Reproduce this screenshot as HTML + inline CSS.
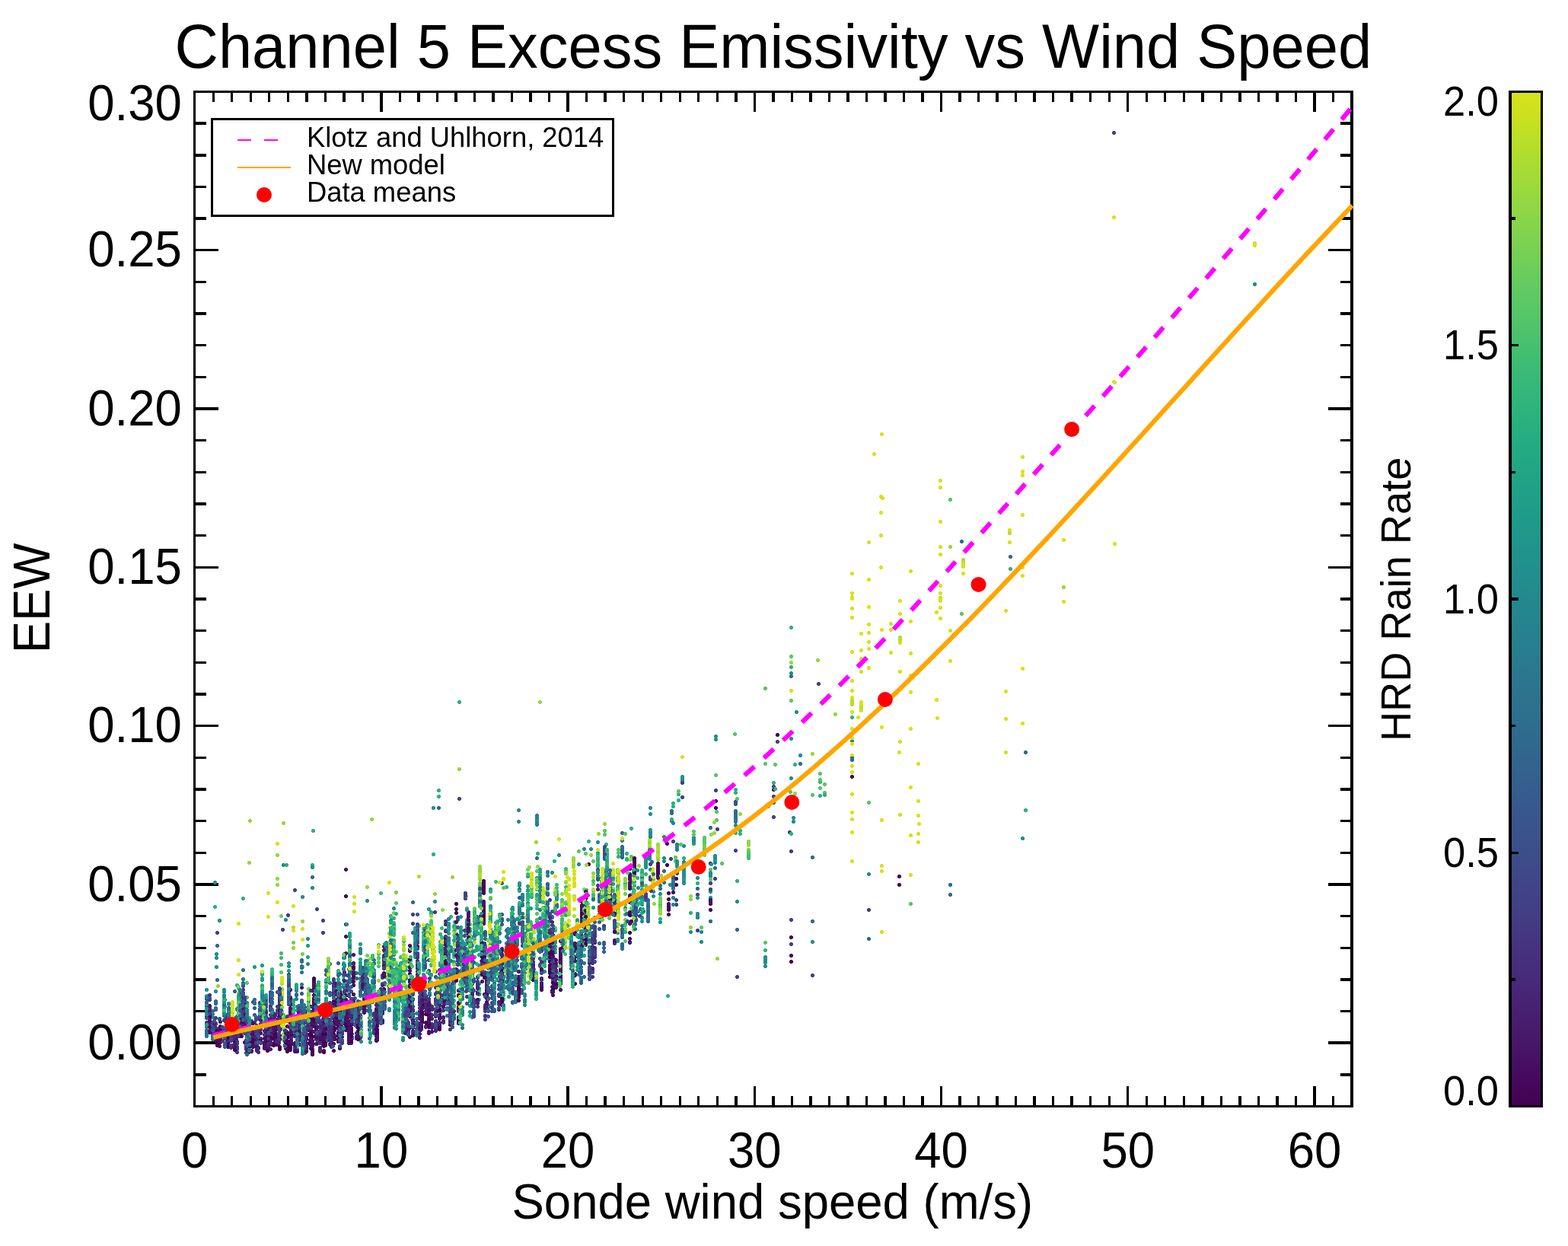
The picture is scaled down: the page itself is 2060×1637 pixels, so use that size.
<!DOCTYPE html>
<html lang="en">
<head>
<meta charset="utf-8">
<title>Channel 5 Excess Emissivity vs Wind Speed</title>
<style>
html,body{margin:0;padding:0;background:#fff;}
body{width:2060px;height:1637px;overflow:hidden;font-family:'Liberation Sans', sans-serif;}
svg{display:block;}
</style>
</head>
<body>
<svg width="2060" height="1637" viewBox="0 0 2060 1637" font-family="'Liberation Sans', sans-serif" fill="#000" role="img" aria-label="Channel 5 Excess Emissivity vs Wind Speed">
<rect width="2060" height="1637" fill="#fff"/>
<g stroke="#000" stroke-width="3.4" fill="none" stroke-linecap="butt" shape-rendering="crispEdges">
<rect x="255.7" y="120.5" width="1520.3" height="1333.0"/>
<path d="M255.70,1453.5v-26.5M255.70,120.5v26.5M280.22,1453.5v-13.5M280.22,120.5v13.5M304.74,1453.5v-13.5M304.74,120.5v13.5M329.26,1453.5v-13.5M329.26,120.5v13.5M353.78,1453.5v-13.5M353.78,120.5v13.5M378.30,1453.5v-13.5M378.30,120.5v13.5M402.83,1453.5v-13.5M402.83,120.5v13.5M427.35,1453.5v-13.5M427.35,120.5v13.5M451.87,1453.5v-13.5M451.87,120.5v13.5M476.39,1453.5v-13.5M476.39,120.5v13.5M500.91,1453.5v-26.5M500.91,120.5v26.5M525.43,1453.5v-13.5M525.43,120.5v13.5M549.95,1453.5v-13.5M549.95,120.5v13.5M574.47,1453.5v-13.5M574.47,120.5v13.5M598.99,1453.5v-13.5M598.99,120.5v13.5M623.51,1453.5v-13.5M623.51,120.5v13.5M648.04,1453.5v-13.5M648.04,120.5v13.5M672.56,1453.5v-13.5M672.56,120.5v13.5M697.08,1453.5v-13.5M697.08,120.5v13.5M721.60,1453.5v-13.5M721.60,120.5v13.5M746.12,1453.5v-26.5M746.12,120.5v26.5M770.64,1453.5v-13.5M770.64,120.5v13.5M795.16,1453.5v-13.5M795.16,120.5v13.5M819.68,1453.5v-13.5M819.68,120.5v13.5M844.20,1453.5v-13.5M844.20,120.5v13.5M868.72,1453.5v-13.5M868.72,120.5v13.5M893.25,1453.5v-13.5M893.25,120.5v13.5M917.77,1453.5v-13.5M917.77,120.5v13.5M942.29,1453.5v-13.5M942.29,120.5v13.5M966.81,1453.5v-13.5M966.81,120.5v13.5M991.33,1453.5v-26.5M991.33,120.5v26.5M1015.85,1453.5v-13.5M1015.85,120.5v13.5M1040.37,1453.5v-13.5M1040.37,120.5v13.5M1064.89,1453.5v-13.5M1064.89,120.5v13.5M1089.41,1453.5v-13.5M1089.41,120.5v13.5M1113.93,1453.5v-13.5M1113.93,120.5v13.5M1138.45,1453.5v-13.5M1138.45,120.5v13.5M1162.98,1453.5v-13.5M1162.98,120.5v13.5M1187.50,1453.5v-13.5M1187.50,120.5v13.5M1212.02,1453.5v-13.5M1212.02,120.5v13.5M1236.54,1453.5v-26.5M1236.54,120.5v26.5M1261.06,1453.5v-13.5M1261.06,120.5v13.5M1285.58,1453.5v-13.5M1285.58,120.5v13.5M1310.10,1453.5v-13.5M1310.10,120.5v13.5M1334.62,1453.5v-13.5M1334.62,120.5v13.5M1359.14,1453.5v-13.5M1359.14,120.5v13.5M1383.66,1453.5v-13.5M1383.66,120.5v13.5M1408.19,1453.5v-13.5M1408.19,120.5v13.5M1432.71,1453.5v-13.5M1432.71,120.5v13.5M1457.23,1453.5v-13.5M1457.23,120.5v13.5M1481.75,1453.5v-26.5M1481.75,120.5v26.5M1506.27,1453.5v-13.5M1506.27,120.5v13.5M1530.79,1453.5v-13.5M1530.79,120.5v13.5M1555.31,1453.5v-13.5M1555.31,120.5v13.5M1579.83,1453.5v-13.5M1579.83,120.5v13.5M1604.35,1453.5v-13.5M1604.35,120.5v13.5M1628.87,1453.5v-13.5M1628.87,120.5v13.5M1653.40,1453.5v-13.5M1653.40,120.5v13.5M1677.92,1453.5v-13.5M1677.92,120.5v13.5M1702.44,1453.5v-13.5M1702.44,120.5v13.5M1726.96,1453.5v-26.5M1726.96,120.5v26.5M1751.48,1453.5v-13.5M1751.48,120.5v13.5M1776.00,1453.5v-13.5M1776.00,120.5v13.5M255.7,1453.50h15M1776.0,1453.50h-15M255.7,1411.84h15M1776.0,1411.84h-15M255.7,1370.19h31M1776.0,1370.19h-31M255.7,1328.53h15M1776.0,1328.53h-15M255.7,1286.88h15M1776.0,1286.88h-15M255.7,1245.22h15M1776.0,1245.22h-15M255.7,1203.56h15M1776.0,1203.56h-15M255.7,1161.91h31M1776.0,1161.91h-31M255.7,1120.25h15M1776.0,1120.25h-15M255.7,1078.59h15M1776.0,1078.59h-15M255.7,1036.94h15M1776.0,1036.94h-15M255.7,995.28h15M1776.0,995.28h-15M255.7,953.62h31M1776.0,953.62h-31M255.7,911.97h15M1776.0,911.97h-15M255.7,870.31h15M1776.0,870.31h-15M255.7,828.66h15M1776.0,828.66h-15M255.7,787.00h15M1776.0,787.00h-15M255.7,745.34h31M1776.0,745.34h-31M255.7,703.69h15M1776.0,703.69h-15M255.7,662.03h15M1776.0,662.03h-15M255.7,620.38h15M1776.0,620.38h-15M255.7,578.72h15M1776.0,578.72h-15M255.7,537.06h31M1776.0,537.06h-31M255.7,495.41h15M1776.0,495.41h-15M255.7,453.75h15M1776.0,453.75h-15M255.7,412.09h15M1776.0,412.09h-15M255.7,370.44h15M1776.0,370.44h-15M255.7,328.78h31M1776.0,328.78h-31M255.7,287.12h15M1776.0,287.12h-15M255.7,245.47h15M1776.0,245.47h-15M255.7,203.81h15M1776.0,203.81h-15M255.7,162.16h15M1776.0,162.16h-15M255.7,120.50h31M1776.0,120.50h-31"/>
</g>
<g transform="translate(.5,.5)" fill="none" stroke-width="4.9" stroke-linecap="round" shape-rendering="crispEdges">
<path stroke="#21a685" d="M626 1243h0M604 1340h0M694 1242h0M653 1287h0M344 1285h0M497 1309h0M715 1206h0M431 1272h0M556 1242h0M294 1323h0M693 1180h0M752 1255h0M750 1231h0M670 1247h0M805 1169h0M693 1151h0M459 1239h0M313 1342h0M717 1240h0M530 1330h0M486 1339h0M704 1305h0M539 1268h0M647 1243h0M705 1153h0M752 1255h0M717 1227h0M459 1241h0M670 1290h0M677 1268h0M385 1338h0M663 1263h0M693 1190h0M644 1199h0M641 1278h0M632 1201h0M644 1211h0M729 1251h0M790 1172h0M346 1326h0M513 1238h0M327 1345h0M584 1290h0M518 1302h0M451 1318h0M517 1235h0M785 1127h0M397 1364h0M605 1263h0M688 1275h0M797 1121h0M673 1232h0M758 1210h0M313 1312h0M520 1323h0M520 1304h0M623 1232h0M580 1256h0M607 1284h0M523 1312h0M418 1307h0M530 1314h0M604 1336h0M431 1280h0M566 1198h0M344 1279h0M589 1287h0M785 1136h0M529 1309h0M545 1229h0M324 1357h0M704 1291h0M688 1275h0M486 1361h0M489 1276h0M688 1265h0M715 1269h0M511 1299h0M704 1299h0M647 1237h0M344 1317h0M428 1321h0M372 1345h0M357 1289h0M344 1285h0M709 1142h0M682 1193h0M697 1280h0M673 1236h0M459 1249h0M619 1286h0M580 1264h0M717 1215h0M521 1322h0M752 1255h0M607 1309h0M517 1223h0M524 1277h0M444 1303h0M607 1295h0M691 1250h0M673 1232h0M738 1208h0M397 1367h0M843 1146h0M688 1277h0M529 1337h0M561 1215h0M315 1310h0M617 1283h0M758 1208h0M521 1313h0M647 1264h0M517 1221h0M294 1316h0M385 1320h0M451 1282h0M682 1163h0M550 1265h0"/>
<path stroke="#1e9b8a" d="M556 1274h0M578 1280h0M715 1213h0M752 1239h0M832 1179h0M620 1248h0M644 1180h0M607 1287h0M530 1284h0M451 1281h0M750 1235h0M515 1279h0M673 1220h0M556 1260h0M405 1338h0M832 1216h0M385 1339h0M507 1248h0M644 1234h0M731 1174h0M524 1301h0M580 1258h0M647 1230h0M763 1227h0M533 1285h0M324 1332h0M473 1293h0M584 1285h0M670 1269h0M517 1243h0M497 1321h0M720 1255h0M489 1278h0M613 1213h0M369 1316h0M793 1154h0M717 1213h0M478 1288h0M545 1229h0M651 1235h0M533 1338h0M584 1304h0M649 1266h0M623 1208h0M324 1338h0M517 1246h0M667 1257h0M853 1128h0M688 1270h0M750 1250h0M346 1335h0M521 1320h0M517 1284h0M670 1295h0M486 1316h0M478 1312h0M550 1267h0M334 1270h0M486 1331h0M584 1305h0M431 1283h0M346 1328h0M346 1317h0M644 1239h0M414 1311h0M414 1330h0M529 1314h0M667 1237h0M715 1208h0M623 1224h0M647 1253h0M300 1347h0M898 1157h0M612 1240h0M578 1298h0M459 1259h0M647 1238h0M653 1213h0M597 1236h0M596 1297h0M584 1292h0M811 1216h0M300 1339h0M719 1219h0M405 1341h0M752 1273h0M341 1325h0M397 1384h0M529 1366h0M670 1276h0M541 1316h0M513 1249h0M632 1238h0M397 1364h0M524 1280h0M597 1225h0M717 1238h0M327 1382h0M752 1285h0M729 1199h0M524 1285h0M647 1241h0M596 1308h0M517 1281h0M390 1370h0M529 1366h0M688 1264h0M779 1192h0M478 1293h0M545 1256h0M889 1134h0M444 1278h0M843 1180h0M667 1267h0M313 1342h0M523 1326h0M750 1232h0M688 1260h0M717 1199h0M689 1236h0M521 1295h0M478 1295h0M647 1242h0M796 1142h0M770 1203h0M524 1301h0M647 1238h0M418 1316h0M478 1297h0M379 1282h0M632 1201h0M617 1232h0M372 1352h0"/>
<path stroke="#414287" d="M367 1313h0M319 1324h0M587 1312h0M719 1217h0M1039 1208h0M726 1231h0M307 1357h0M622 1318h0M367 1327h0M1016 1033h0M500 1344h0M310 1369h0M577 1298h0M574 1322h0M835 1199h0M379 1292h0M317 1320h0M462 1343h0M646 1300h0M542 1306h0M564 1293h0M330 1341h0M778 1250h0M438 1293h0M548 1220h0M295 1371h0M400 1376h0M462 1362h0M446 1346h0M461 1328h0M781 1206h0M633 1279h0M339 1355h0M279 1350h0M1016 1054h0M939 1154h0M400 1358h0M686 1225h0M396 1322h0M807 1215h0M644 1283h0M324 1385h0M1039 1240h0M321 1350h0M502 1294h0M418 1309h0M572 1354h0M476 1274h0M446 1351h0M311 1371h0M484 1309h0M323 1376h0M587 1325h0M627 1283h0M1067 1281h0M592 1332h0M366 1335h0M571 1198h0M452 1337h0M801 1167h0M382 1364h0M323 1367h0M367 1312h0M620 1307h0M476 1276h0M722 1209h0M551 1312h0M637 1320h0M321 1314h0M315 1334h0M324 1366h0M622 1328h0M572 1297h0M558 1319h0M613 1298h0M438 1303h0M536 1345h0M420 1377h0M532 1344h0M341 1334h0M446 1354h0M400 1363h0M396 1330h0M796 1163h0M548 1257h0M275 1325h0M656 1279h0M551 1316h0M505 1312h0M367 1342h0M295 1373h0M438 1304h0M854 1152h0M739 1237h0M298 1336h0M536 1343h0M294 1333h0M311 1362h0M916 1175h0M603 1049h0M396 1319h0M294 1331h0M399 1334h0M620 1312h0M271 1312h0M330 1344h0M359 1335h0M504 1261h0M774 1276h0M452 1322h0M414 1345h0M559 1315h0M667 1295h0M315 1322h0M835 1188h0M341 1339h0M686 1242h0M1016 1073h0M285 1359h0M315 1338h0M462 1335h0M355 1340h0M1141 1195h0"/>
<path stroke="#2a778e" d="M605 1218h0M397 1366h0M709 1269h0M517 1217h0M513 1259h0M752 1280h0M435 1343h0M801 1167h0M763 1254h0M651 1234h0M750 1248h0M578 1307h0M760 1244h0M752 1249h0M651 1272h0M399 1325h0M319 1333h0M752 1287h0M630 1186h0M785 1150h0M613 1222h0M589 1270h0M817 1223h0M315 1305h0M476 1297h0M485 1317h0M279 1358h0M613 1274h0M435 1328h0M574 1312h0M480 1282h0M641 1323h0M672 1237h0M446 1346h0M637 1255h0M466 1331h0M429 1323h0M767 1265h0M578 1306h0M592 1337h0M485 1326h0M433 1291h0M763 1223h0M574 1309h0M500 1324h0M613 1268h0M787 1194h0M750 1240h0M966 1079h0M884 1159h0M480 1281h0M693 1237h0M349 1330h0M630 1172h0M564 1319h0M715 1211h0M513 1239h0M294 1334h0M594 1295h0M750 1233h0M294 1322h0M524 1304h0M389 1301h0M843 1172h0M446 1328h0M369 1327h0M760 1245h0M526 1312h0M428 1327h0M547 1338h0M558 1233h0M686 1230h0M452 1253h0M529 1336h0M500 1318h0M675 1208h0M295 1339h0M271 1359h0M620 1268h0M484 1311h0M630 1189h0M390 1342h0M693 1234h0M505 1322h0M385 1348h0M760 1254h0M414 1329h0M587 1298h0M605 1221h0M637 1227h0M344 1310h0M620 1257h0M589 1273h0M279 1336h0M785 1153h0M327 1364h0M966 1070h0M884 1153h0M548 1223h0M752 1296h0M369 1313h0M613 1254h0M396 1317h0M524 1303h0M637 1243h0M752 1296h0M587 1312h0M518 1342h0M300 1337h0M651 1237h0M966 1065h0M774 1219h0M507 1260h0M533 1317h0M801 1161h0M486 1306h0M517 1292h0M524 1295h0M796 1171h0M658 1302h0M760 1249h0"/>
<path stroke="#2db27d" d="M521 1324h0M418 1299h0M812 1125h0M596 1251h0M346 1322h0M523 1331h0M486 1335h0M517 1236h0M649 1264h0M728 1131h0M811 1165h0M715 1263h0M584 1315h0M688 1271h0M805 1149h0M376 1136h0M670 1278h0M344 1326h0M561 1228h0M972 1091h0M584 1284h0M486 1329h0M750 1228h0M670 1280h0M612 1226h0M607 1284h0M752 1276h0M779 1170h0M520 1308h0M550 1267h0M705 1240h0M1005 1248h0M459 1228h0M704 1303h0M785 1130h0M629 1216h0M604 1317h0M617 1273h0M486 1276h0M521 1280h0M704 1311h0M693 1204h0M327 1350h0M644 1207h0M797 1136h0M821 1201h0M739 1235h0M566 1267h0M515 1273h0M576 1038h0M605 1227h0M459 1236h0M566 1200h0M833 1181h0M390 1373h0M891 1043h0M632 1201h0M833 1163h0M705 1241h0M661 1326h0M623 1220h0M584 1281h0M539 1282h0M693 1209h0M623 1216h0M523 1305h0M491 1286h0M672 1204h0M647 1254h0M891 1051h0M530 1263h0M843 1181h0M486 1369h0M596 1292h0M1077 1027h0M704 1284h0M282 1191h0M561 1234h0M738 1229h0M431 1280h0M701 1273h0M397 1354h0M346 1329h0M459 1247h0M752 1269h0M529 1309h0M511 1275h0M480 1263h0M743 1202h0M344 1280h0M811 1153h0M524 1284h0M451 1312h0M1119 942h0M877 1308h0M626 1248h0M517 1224h0M521 1309h0M431 1274h0M1039 876h0M580 1274h0M791 1161h0M520 1351h0M372 1345h0M372 1341h0M705 1181h0M584 1299h0M647 1250h0M785 1138h0M693 1176h0M832 1177h0M743 1170h0M796 1109h0M693 1176h0M750 1232h0M649 1289h0M597 1229h0M517 1228h0M575 1307h0M597 1217h0M529 1334h0M698 1176h0M630 1185h0M619 1292h0M428 1305h0M670 1283h0M729 1222h0M689 1250h0M797 1124h0M760 1248h0M478 1312h0M752 1265h0M691 1258h0M966 1037h0"/>
<path stroke="#218f8d" d="M843 1205h0M691 1254h0M735 1295h0M507 1248h0M594 1274h0M499 1325h0M518 1321h0M717 1225h0M315 1300h0M515 1279h0M459 1279h0M294 1326h0M770 1218h0M300 1324h0M921 1237h0M473 1252h0M644 1209h0M294 1318h0M533 1303h0M507 1249h0M410 1166h0M715 1199h0M428 1320h0M1039 1022h0M459 1253h0M843 1160h0M911 1100h0M672 1208h0M482 1274h0M612 1288h0M295 1313h0M478 1282h0M517 1193h0M444 1323h0M513 1243h0M357 1298h0M939 1131h0M324 1337h0M613 1266h0M397 1369h0M390 1327h0M617 1329h0M607 1280h0M817 1104h0M550 1276h0M459 1257h0M623 1210h0M473 1276h0M489 1292h0M933 1171h0M389 1306h0M466 1320h0M858 1177h0M704 1288h0M521 1306h0M898 1138h0M589 1251h0M473 1308h0M578 1289h0M517 1281h0M620 1250h0M428 1317h0M670 1279h0M653 1241h0M550 1289h0M397 1384h0M709 1235h0M760 1135h0M1051 992h0M613 1284h0M558 1235h0M444 1293h0M836 1182h0M489 1259h0M511 1325h0M459 1289h0M499 1325h0M1005 1264h0M872 1131h0M858 1171h0M667 1250h0M524 1304h0M1039 970h0M763 1223h0M524 1310h0M1046 935h0M682 1163h0M691 1262h0M385 1330h0M294 1323h0M672 1215h0M507 1238h0M750 1227h0M682 1170h0M843 1152h0M473 1248h0M507 1249h0M511 1283h0M605 1246h0M578 1284h0M679 1240h0M898 1141h0M524 1308h0M629 1305h0M750 1228h0M921 1224h0M719 1164h0M346 1313h0M750 1237h0M390 1374h0M750 1243h0M796 1156h0M629 1268h0M898 1144h0M397 1382h0M630 1170h0M390 1370h0M898 1148h0M758 1242h0M545 1256h0M545 1226h0M968 1184h0M459 1244h0M647 1254h0M404 1266h0M524 1291h0M689 1257h0M641 1286h0M418 1298h0M451 1333h0M653 1249h0M677 1310h0M776 1115h0M474 1348h0M793 1194h0M405 1341h0M613 1208h0M787 1175h0M541 1339h0M811 1225h0M513 1218h0M478 1296h0M750 1238h0M670 1296h0M507 1253h0M271 1361h0M691 1265h0M767 1115h0M587 1262h0M898 1111h0M284 1270h0M647 1239h0M556 1266h0M647 1235h0M717 1228h0M725 1146h0M853 1119h0M787 1192h0M589 1236h0M556 1292h0M629 1306h0M474 1368h0M916 1153h0M715 1243h0M451 1325h0M584 1281h0M294 1328h0M670 1268h0M418 1307h0"/>
<path stroke="#95d840" d="M772 1237h0M705 1157h0M630 1138h0M575 1289h0M533 1264h0M653 1230h0M630 1146h0M405 1327h0M619 1276h0M630 1140h0M530 1283h0M907 1177h0M791 1190h0M512 1267h0M561 1233h0M694 1277h0M698 1157h0M767 1201h0M486 1259h0M581 1195h0M305 1330h0M405 1334h0M1044 1042h0M346 1331h0M767 1231h0M853 1111h0M568 1264h0M772 1219h0M811 1143h0M772 1193h0M328 1078h0M619 1272h0M791 1159h0M619 1277h0M405 1314h0M431 1271h0M805 1167h0M364 1154h0M385 1245h0M561 1233h0M694 1265h0M619 1277h0M520 1264h0M839 1137h0M738 1193h0M571 1174h0M694 1231h0M497 1260h0M767 1168h0M867 1200h0M779 1182h0M509 1264h0M566 1233h0M597 1232h0M706 1138h0M859 1187h0M800 1177h0M704 1291h0M617 1243h0M372 1351h0M509 1285h0M561 1238h0M575 1293h0M794 1082h0M389 1296h0M800 1180h0M832 1221h0M517 1279h0M632 1234h0M772 1224h0M491 1266h0M370 1300h0M697 1286h0M632 1200h0M530 1289h0M575 1315h0M509 1266h0M305 1324h0M672 1222h0"/>
<path stroke="#75d054" d="M561 1224h0M805 1143h0M738 1185h0M843 1170h0M772 1227h0M515 1262h0M521 1277h0M566 1211h0M742 1230h0M431 1268h0M821 1208h0M767 1197h0M745 1196h0M653 1250h0M385 1238h0M313 1305h0M779 1161h0M800 1170h0M561 1228h0M867 1187h0M743 1185h0M743 1172h0M713 1217h0M772 1208h0M515 1262h0M580 1251h0M607 1280h0M344 1294h0M925 1123h0M738 1236h0M566 1211h0M509 1269h0M821 1220h0M566 1234h0M533 1295h0M805 1183h0M623 1212h0M767 1219h0M604 1338h0M617 1258h0M486 1278h0M623 1227h0M791 1172h0M832 1173h0M832 1170h0M811 1214h0M607 1284h0M821 1160h0M533 1274h0M767 1180h0M515 1264h0M821 1158h0M607 1289h0M713 1192h0M405 1334h0M604 1342h0M566 1209h0M530 1314h0M983 1116h0M832 1147h0M474 1346h0M619 1269h0M619 1269h0M925 1110h0M800 1193h0M561 1235h0M693 1142h0"/>
<path stroke="#40bd72" d="M653 1265h0M742 1230h0M613 1193h0M767 1235h0M632 1212h0M758 1219h0M811 1182h0M738 1207h0M670 1295h0M515 1283h0M697 1271h0M491 1295h0M630 1172h0M521 1329h0M617 1240h0M604 1344h0M738 1200h0M515 1254h0M770 1169h0M428 1317h0M735 1283h0M431 1269h0M414 1301h0M397 1344h0M385 1327h0M785 1125h0M812 1158h0M770 1193h0M688 1289h0M604 1344h0M832 1146h0M513 1226h0M752 1269h0M619 1262h0M346 1339h0M811 1196h0M832 1143h0M428 1311h0M584 1283h0M843 1145h0M607 1302h0M832 1172h0M735 1278h0M369 1267h0M520 1303h0M651 1158h0M561 1238h0M500 1173h0M752 1267h0M580 1251h0M689 1267h0M661 1306h0M517 1242h0M697 1217h0M743 1142h0M663 1256h0M720 1229h0M497 1269h0M596 1285h0M604 1344h0M596 1263h0M805 1184h0M566 1268h0M673 1227h0M772 1207h0M486 1369h0M619 1285h0M821 1156h0M758 1246h0M580 1255h0M697 1220h0M693 1189h0M346 1345h0M556 1255h0M653 1228h0M805 1154h0M566 1281h0M405 1332h0M294 1316h0M772 1237h0M619 1247h0M800 1182h0M697 1228h0M529 1346h0M767 1239h0M550 1278h0M617 1244h0M520 1277h0M717 1230h0M346 1318h0M626 1220h0M735 1263h0M596 1247h0M584 1279h0M526 1257h0M738 1218h0M313 1333h0M604 1323h0"/>
<path stroke="#d8e219" d="M653 1247h0M754 1161h0M364 1108h0M568 1220h0M694 1247h0M747 1245h0M632 1193h0M694 1256h0M772 1207h0M857 1167h0M580 1237h0M580 1248h0M370 1286h0M791 1191h0M643 1237h0M1141 843h0M1157 703h0M694 1235h0M742 1219h0M747 1182h0M575 1301h0M643 1216h0M694 1290h0M800 1189h0M431 1260h0M694 1255h0M597 1239h0M604 1316h0M509 1261h0M512 1230h0M575 1296h0M812 1194h0M575 1288h0M1207 1082h0M805 1157h0M857 1142h0M604 1303h0M370 1303h0M1235 718h0M1464 502h0M370 1311h0M1119 918h0M1182 844h0M1170 827h0M694 1258h0M857 1157h0M372 1365h0M1170 857h0M509 1263h0M1321 988h0M800 1159h0M812 1146h0M1206 1052h0M857 1141h0M1321 802h0M661 1154h0M568 1225h0M698 1151h0M694 1231h0M747 1189h0M1170 819h0M568 1252h0M1235 685h0M1397 709h0M698 1148h0M747 1163h0M431 1268h0M857 1155h0M812 1222h0M754 1162h0M800 1170h0M305 1319h0M800 1168h0M694 1236h0M580 1245h0M800 1184h0M1131 925h0M512 1274h0M530 1257h0M772 1217h0M370 1304h0M772 1215h0M1397 790h0M1119 1093h0M1039 907h0M742 1228h0M530 1278h0M604 1322h0M857 1163h0M459 1269h0M1119 1067h0M857 1144h0M857 1151h0M530 1231h0M575 1302h0M1119 811h0M580 1246h0M1182 882h0M1119 916h0M1182 1070h0M743 1158h0M512 1244h0M568 1230h0M1131 931h0M767 1194h0M397 1234h0M1119 1076h0M1127 942h0M570 1269h0M509 1265h0M570 1265h0M713 1166h0M857 1156h0M791 1173h0M313 1280h0M561 1222h0M805 1134h0M313 1213h0"/>
<path stroke="#58c765" d="M584 1305h0M596 1273h0M821 1236h0M772 1205h0M717 1172h0M694 1238h0M619 1263h0M431 1275h0M772 1231h0M617 1214h0M530 1307h0M894 1109h0M580 1253h0M414 1300h0M617 1291h0M1263 806h0M887 1131h0M701 1279h0M720 1230h0M1196 1187h0M623 1202h0M1083 1030h0M758 1208h0M704 1288h0M653 1242h0M520 1338h0M663 1267h0M517 1279h0M491 1283h0M566 1296h0M604 1344h0M431 1275h0M431 1266h0M584 1293h0M405 1321h0M596 1223h0M738 1218h0M689 1236h0M613 1209h0M647 1224h0M812 1162h0M372 1366h0M431 1277h0M405 1318h0M313 1321h0M619 1271h0M647 1238h0M701 1256h0M405 1342h0M925 1116h0M697 1254h0M911 1096h0M697 1259h0M821 1213h0M705 1179h0M717 1213h0M858 1155h0M584 1297h0M517 1224h0M833 1150h0M717 1173h0M705 1185h0M512 1282h0M643 1244h0M597 1216h0M941 1066h0M821 1160h0M653 1246h0M523 1322h0M697 1267h0M948 1134h0M933 1142h0M533 1297h0M800 1188h0M701 1238h0M515 1282h0M604 1344h0M829 1175h0M940 1018h0M346 1338h0M830 1166h0M653 1215h0M523 1324h0M512 1248h0M459 1269h0M575 1301h0M619 1248h0M720 1246h0M720 1227h0M530 1235h0M729 1219h0M530 1310h0M405 1310h0M925 1102h0M520 1316h0M653 1251h0M1077 1035h0M346 1320h0M520 1310h0M459 1235h0M1141 1054h0M489 1271h0M580 1252h0M925 1114h0M346 1327h0M561 1232h0M451 1311h0M466 1332h0M509 1275h0M530 1260h0M694 1235h0M489 1289h0M561 1240h0M661 1313h0M717 1187h0M698 1152h0M451 1314h0M693 1191h0M1005 904h0M760 1118h0M663 1264h0M431 1276h0M580 1243h0M357 1298h0M539 1260h0M1038 1040h0M832 1213h0"/>
<path stroke="#471365" d="M447 1306h0M736 1260h0M458 1368h0M298 1358h0M444 1350h0M464 1266h0M288 1365h0M364 1365h0M864 1140h0M326 1382h0M412 1314h0M532 1339h0M476 1288h0M602 1324h0M454 1347h0M275 1333h0M364 1358h0M332 1356h0M281 1351h0M326 1377h0M454 1353h0M538 1323h0M414 1342h0M563 1355h0M725 1263h0M367 1309h0M381 1369h0M736 1265h0M410 1367h0M420 1354h0M538 1308h0M827 1213h0M495 1338h0M454 1330h0M736 1292h0M425 1354h0M337 1374h0M441 1338h0M736 1283h0M599 1274h0M300 1342h0M470 1345h0M659 1289h0M730 1286h0M599 1285h0M827 1185h0M577 1325h0M700 1265h0M615 1225h0M478 1315h0M577 1335h0M577 1349h0M364 1372h0M559 1321h0M458 1346h0M542 1339h0M381 1357h0M478 1318h0M470 1335h0M351 1357h0M412 1293h0M332 1373h0M470 1336h0M298 1348h0M736 1272h0M289 1358h0M711 1291h0M281 1366h0M478 1319h0M404 1332h0M458 1333h0M577 1346h0M412 1295h0M410 1373h0M470 1318h0M317 1323h0M454 1341h0M289 1357h0M478 1317h0M447 1311h0M476 1278h0M375 1360h0M615 1201h0M470 1355h0M476 1296h0M764 1201h0M478 1319h0M599 1248h0M381 1313h0M447 1324h0M538 1316h0M554 1339h0M538 1320h0M281 1350h0M476 1276h0M390 1381h0M382 1352h0M726 1228h0M315 1359h0M412 1286h0M755 1292h0M585 1241h0M381 1332h0M736 1287h0M424 1357h0M591 1306h0M461 1352h0M538 1296h0M412 1313h0M827 1238h0M439 1337h0M410 1378h0M381 1317h0M538 1333h0M351 1371h0M538 1290h0M412 1291h0M458 1367h0M454 1252h0M454 1336h0M722 1228h0M478 1320h0M332 1360h0M582 1336h0M494 1367h0M554 1341h0M392 1331h0M655 1308h0M364 1352h0M538 1305h0M454 1339h0M424 1370h0M444 1338h0M347 1364h0M563 1316h0M478 1313h0M458 1357h0M538 1288h0M377 1341h0M585 1280h0M420 1380h0M351 1349h0M736 1283h0M412 1324h0M764 1210h0M478 1314h0M577 1348h0M427 1373h0M736 1254h0M402 1370h0M755 1279h0M454 1214h0M444 1361h0M415 1342h0M470 1326h0M427 1356h0M681 1276h0M435 1375h0M319 1335h0M478 1316h0M336 1363h0M615 1227h0M659 1278h0M281 1360h0M470 1358h0M504 1266h0M342 1357h0M609 1289h0M730 1285h0M349 1348h0M330 1374h0M458 1345h0M542 1328h0M722 1247h0M392 1328h0M412 1297h0M627 1322h0M801 1183h0M725 1275h0M722 1273h0M381 1324h0M377 1348h0M615 1209h0M458 1369h0M364 1348h0M407 1351h0M577 1328h0M755 1257h0M615 1237h0M408 1358h0M602 1307h0M464 1272h0M781 1238h0"/>
<path stroke="#2f6b8e" d="M770 1195h0M300 1334h0M717 1239h0M673 1266h0M369 1335h0M626 1205h0M644 1264h0M526 1302h0M796 1155h0M444 1321h0M1263 711h0M613 1266h0M939 1140h0M851 1206h0M300 1344h0M658 1280h0M446 1368h0M390 1372h0M523 1322h0M675 1225h0M717 1215h0M317 1319h0M651 1276h0M612 1289h0M315 1321h0M505 1315h0M620 1270h0M505 1282h0M679 1269h0M558 1226h0M693 1236h0M499 1330h0M294 1325h0M933 1087h0M349 1331h0M835 1189h0M644 1255h0M466 1325h0M542 1185h0M620 1283h0M418 1311h0M637 1242h0M787 1239h0M715 1201h0M594 1320h0M452 1296h0M658 1272h0M468 1278h0M801 1147h0M435 1319h0M507 1245h0M499 1326h0M279 1353h0M390 1363h0M480 1297h0M801 1195h0M446 1334h0M484 1298h0M685 1270h0M545 1248h0M1067 1210h0M410 1152h0M452 1256h0M396 1328h0M589 1255h0M466 1336h0M271 1360h0M601 1208h0M369 1317h0M500 1331h0M576 1061h0M369 1321h0M705 1127h0M507 1251h0M482 1306h0M513 1281h0M533 1347h0M556 1272h0M651 1257h0M482 1321h0M470 1320h0M739 1236h0M630 1184h0M295 1354h0M1119 994h0M584 1297h0M612 1278h0M673 1301h0M817 1228h0M796 1181h0M612 1302h0M787 1191h0M835 1207h0M693 1222h0M834 1220h0M801 1165h0M279 1328h0M399 1357h0M750 1248h0M649 1311h0M601 1248h0M966 1067h0M763 1243h0M641 1302h0M482 1286h0M834 1214h0M613 1267h0M675 1231h0M760 1246h0M507 1248h0M324 1376h0M466 1339h0M646 1275h0M613 1252h0M672 1231h0M620 1262h0M646 1274h0M414 1317h0M526 1296h0M833 1198h0M499 1334h0M796 1148h0M793 1218h0M760 1245h0M369 1326h0M620 1268h0M500 1322h0M491 1265h0M658 1290h0M731 1181h0M1051 1003h0M334 1317h0M817 1242h0M357 1330h0M667 1269h0M779 1216h0M770 1207h0M845 1197h0M484 1310h0M446 1347h0"/>
<path stroke="#b5de2b" d="M1119 923h0M713 1178h0M431 1261h0M405 1339h0M805 1145h0M1235 785h0M753 1139h0M689 1230h0M561 1227h0M689 1231h0M864 1117h0M530 1289h0M509 1270h0M753 1135h0M431 1269h0M772 1203h0M617 1236h0M800 1193h0M705 1144h0M853 1109h0M570 1250h0M1265 735h0M630 1153h0M800 1175h0M617 1244h0M370 1307h0M370 1310h0M530 1235h0M556 1221h0M566 1219h0M643 1217h0M701 1233h0M772 1214h0M568 1226h0M694 1255h0M800 1170h0M512 1286h0M530 1309h0M597 1225h0M630 1148h0M867 1193h0M853 1103h0M791 1171h0"/>
<path stroke="#46337f" d="M585 1252h0M433 1347h0M424 1369h0M730 1291h0M577 1308h0M480 1282h0M285 1369h0M639 1308h0M433 1339h0M446 1362h0M563 1313h0M317 1322h0M760 1254h0M484 1310h0M392 1367h0M700 1263h0M627 1322h0M416 1350h0M392 1367h0M637 1328h0M435 1362h0M435 1350h0M439 1342h0M500 1340h0M468 1357h0M726 1256h0M279 1352h0M352 1362h0M577 1288h0M352 1378h0M781 1217h0M620 1310h0M295 1371h0M548 1236h0M449 1345h0M686 1237h0M494 1336h0M655 1294h0M502 1317h0M613 1279h0M542 1333h0M339 1367h0M567 1326h0M807 1185h0M601 1262h0M548 1244h0M420 1360h0M548 1245h0M424 1373h0M393 1352h0M347 1369h0M279 1358h0M655 1326h0M655 1319h0M633 1274h0M577 1295h0M778 1275h0M532 1340h0M659 1255h0M577 1308h0M636 1247h0M542 1304h0M311 1378h0M494 1328h0M480 1286h0M534 1321h0M271 1343h0M456 1293h0M458 1328h0M402 1378h0M577 1305h0M404 1341h0M393 1350h0M567 1322h0M317 1332h0M726 1220h0M700 1245h0M627 1284h0M355 1323h0M392 1340h0M458 1308h0M700 1271h0M341 1335h0M361 1333h0M655 1307h0M700 1268h0M480 1303h0M574 1302h0M725 1259h0M355 1352h0M446 1333h0M387 1361h0M361 1334h0M351 1338h0M438 1322h0M504 1278h0M379 1294h0M536 1359h0M700 1280h0M387 1374h0M572 1325h0M700 1245h0M307 1367h0M458 1319h0M300 1331h0M352 1371h0M548 1262h0M366 1353h0M433 1361h0M585 1238h0M289 1342h0M402 1351h0M796 1181h0M275 1325h0M675 1255h0M308 1356h0M352 1375h0M591 1346h0M725 1280h0M404 1327h0M774 1286h0M366 1359h0M609 1262h0M330 1353h0M310 1372h0M794 1126h0M848 1174h0M307 1356h0M551 1309h0M778 1272h0M452 1327h0M620 1313h0M408 1329h0M421 1362h0M484 1309h0"/>
<path stroke="#355e8d" d="M760 1247h0M596 1333h0M659 1201h0M438 1302h0M630 1161h0M709 1227h0M547 1355h0M374 1368h0M717 1233h0M807 1182h0M787 1184h0M505 1314h0M484 1301h0M668 1272h0M752 1284h0M653 1252h0M418 1323h0M324 1346h0M675 1217h0M630 1179h0M665 1258h0M658 1253h0M731 1177h0M336 1336h0M591 1330h0M545 1233h0M594 1304h0M817 1246h0M545 1248h0M547 1358h0M462 1319h0M536 1307h0M613 1265h0M449 1341h0M357 1290h0M499 1328h0M637 1278h0M801 1200h0M613 1271h0M637 1253h0M480 1292h0M275 1336h0M594 1349h0M505 1292h0M787 1182h0M367 1308h0M801 1175h0M774 1286h0M835 1183h0M389 1307h0M418 1308h0M558 1245h0M369 1326h0M620 1289h0M726 1216h0M609 1258h0M334 1333h0M404 1342h0M796 1144h0M675 1256h0M294 1326h0M429 1319h0M369 1325h0M435 1334h0M620 1272h0M725 1260h0M399 1321h0M739 1236h0M399 1360h0M446 1329h0M418 1291h0M658 1305h0M760 1251h0M473 1325h0M584 1306h0M500 1301h0M319 1316h0M750 1232h0M658 1292h0M466 1321h0M548 1220h0M601 1229h0M369 1317h0M667 1269h0M774 1286h0M414 1311h0M685 1281h0M327 1369h0M558 1242h0M817 1126h0M390 1371h0M594 1339h0M298 1334h0M774 1286h0M317 1330h0M500 1337h0M778 1225h0M418 1303h0M523 1324h0M592 1312h0M774 1285h0M817 1116h0M292 1350h0M367 1337h0M653 1260h0M545 1249h0M601 1248h0M433 1317h0M480 1303h0M763 1245h0M672 1284h0M774 1286h0M336 1349h0M719 1194h0M473 1335h0M665 1244h0M851 1202h0M644 1223h0M480 1305h0M609 1289h0M444 1265h0M485 1329h0M524 1292h0M646 1279h0M675 1214h0M319 1311h0M630 1186h0M801 1178h0M418 1302h0M801 1170h0M513 1286h0"/>
<path stroke="#440154" d="M722 1278h0M725 1236h0M769 1228h0M447 1303h0M940 1061h0M769 1229h0M317 1327h0M502 1318h0M888 1162h0M384 1350h0M407 1341h0M599 1187h0M410 1361h0M722 1261h0M563 1332h0M412 1326h0M769 1195h0M367 1320h0M275 1341h0M470 1362h0M591 1346h0M711 1295h0M659 1309h0M888 1154h0M438 1336h0M764 1204h0M736 1281h0M769 1235h0M351 1371h0M407 1353h0M326 1382h0M359 1363h0M326 1378h0M478 1326h0M633 1262h0M722 1271h0M412 1330h0M367 1324h0M367 1325h0M381 1379h0M438 1365h0M633 1268h0M454 1340h0M326 1377h0M722 1244h0M412 1348h0M659 1318h0M700 1287h0M412 1322h0M769 1195h0M456 1332h0M876 1136h0M494 1330h0M635 1197h0M420 1367h0M726 1268h0M408 1359h0M726 1248h0M285 1373h0M381 1313h0M538 1301h0M615 1231h0M439 1363h0M377 1373h0M504 1262h0M736 1274h0M317 1325h0M615 1219h0M829 1210h0M878 1181h0M725 1271h0M407 1352h0M317 1341h0M446 1355h0M285 1358h0M1016 1037h0M633 1246h0M585 1290h0M326 1382h0M308 1374h0M884 1172h0M502 1328h0M407 1369h0M355 1345h0M285 1373h0M470 1316h0M458 1359h0M452 1341h0M478 1317h0M470 1347h0M725 1235h0M726 1259h0M730 1282h0M458 1362h0M415 1371h0M446 1377h0M447 1319h0M456 1344h0M585 1292h0M317 1320h0M563 1349h0M559 1343h0M864 1148h0M454 1332h0M299 1361h0M308 1369h0M361 1368h0M478 1320h0M833 1131h0M725 1264h0M538 1279h0M285 1368h0M659 1293h0M563 1335h0M554 1319h0M476 1274h0M736 1252h0M635 1157h0M659 1294h0M326 1364h0M833 1143h0M361 1364h0M412 1301h0M564 1331h0M769 1205h0M478 1320h0M390 1369h0M470 1350h0M470 1344h0M351 1363h0M726 1261h0M355 1360h0M308 1363h0M769 1228h0M281 1355h0M599 1230h0M681 1310h0M681 1289h0M538 1315h0M585 1305h0M833 1129h0M807 1202h0M478 1329h0M769 1241h0M478 1328h0M285 1364h0M458 1367h0M722 1229h0M722 1230h0M615 1210h0M425 1372h0M633 1256h0M681 1304h0M726 1295h0M615 1210h0M554 1338h0M351 1366h0M769 1188h0M827 1176h0M375 1371h0M285 1373h0M504 1261h0M495 1352h0M377 1380h0M478 1325h0M564 1321h0M361 1362h0M764 1184h0M381 1329h0M347 1370h0M602 1326h0M407 1354h0M377 1379h0M1119 1020h0M659 1302h0M321 1340h0M726 1273h0M359 1371h0M427 1355h0M478 1321h0M470 1316h0M367 1348h0M609 1283h0M441 1324h0M681 1297h0M504 1269h0M726 1249h0M538 1270h0M476 1295h0M563 1328h0M807 1185h0M755 1249h0M726 1290h0M438 1358h0M456 1297h0M538 1264h0M711 1300h0M636 1267h0M864 1134h0M361 1361h0M438 1371h0M367 1364h0M452 1315h0M351 1363h0M326 1382h0M275 1339h0M470 1321h0M864 1142h0M577 1325h0M410 1383h0M285 1373h0M495 1354h0M456 1338h0M470 1363h0M563 1337h0M659 1320h0M326 1367h0M864 1151h0M615 1249h0M585 1279h0M635 1166h0M367 1344h0M726 1280h0M285 1371h0M722 1272h0M441 1295h0M599 1235h0"/>
<path stroke="#482475" d="M464 1285h0M289 1357h0M722 1241h0M668 1271h0M402 1363h0M639 1294h0M585 1246h0M594 1349h0M769 1216h0M558 1257h0M456 1298h0M359 1342h0M310 1360h0M433 1358h0M730 1293h0M393 1352h0M375 1364h0M585 1214h0M367 1339h0M446 1335h0M730 1295h0M359 1331h0M332 1354h0M421 1350h0M362 1343h0M781 1230h0M427 1365h0M420 1356h0M577 1318h0M572 1332h0M577 1343h0M390 1369h0M655 1285h0M726 1262h0M585 1210h0M435 1371h0M627 1305h0M495 1343h0M627 1313h0M722 1259h0M675 1270h0M375 1359h0M778 1257h0M319 1320h0M567 1325h0M633 1246h0M470 1326h0M364 1360h0M563 1337h0M319 1346h0M367 1306h0M300 1353h0M452 1308h0M502 1311h0M452 1256h0M420 1348h0M726 1268h0M644 1265h0M551 1354h0M364 1339h0M577 1311h0M288 1369h0M711 1266h0M774 1286h0M554 1311h0M627 1318h0M495 1341h0M577 1295h0M441 1320h0M408 1334h0M726 1249h0M725 1282h0M502 1321h0M285 1360h0M542 1341h0M609 1277h0M591 1335h0M446 1367h0M807 1223h0M319 1337h0M511 1295h0M375 1360h0M563 1316h0M639 1278h0M334 1370h0M342 1349h0M476 1276h0M364 1365h0M572 1335h0M285 1364h0M461 1370h0M468 1361h0M801 1150h0M321 1321h0M725 1274h0M321 1354h0M444 1351h0M424 1348h0M582 1323h0M281 1350h0M317 1335h0M542 1335h0M596 1328h0M464 1276h0M393 1337h0M404 1343h0M421 1363h0M659 1272h0M441 1325h0M424 1347h0M382 1362h0M470 1323h0M361 1334h0M461 1332h0M362 1363h0M462 1364h0M396 1358h0M310 1364h0M778 1260h0M659 1254h0M382 1359h0M659 1246h0M315 1341h0M726 1250h0M668 1276h0M402 1376h0M495 1317h0M470 1323h0M342 1345h0M504 1243h0M362 1365h0M725 1255h0M416 1355h0M637 1339h0M347 1377h0M330 1356h0M317 1322h0M726 1273h0M534 1333h0M337 1377h0M577 1314h0M387 1377h0M355 1343h0M807 1218h0M567 1325h0M359 1360h0M319 1331h0M730 1292h0M393 1358h0"/>
<path stroke="#3b518b" d="M659 1207h0M449 1345h0M437 1324h0M491 1342h0M532 1322h0M807 1216h0M610 1261h0M672 1268h0M622 1286h0M585 1245h0M760 1257h0M558 1262h0M456 1301h0M685 1276h0M484 1314h0M675 1272h0M781 1236h0M667 1288h0M462 1363h0M594 1318h0M319 1332h0M596 1291h0M658 1286h0M807 1179h0M292 1355h0M601 1229h0M319 1306h0M667 1244h0M446 1349h0M461 1289h0M311 1352h0M620 1288h0M794 1128h0M502 1315h0M324 1385h0M781 1219h0M785 1142h0M295 1354h0M315 1319h0M502 1293h0M558 1270h0M511 1309h0M591 1323h0M379 1296h0M591 1337h0M675 1249h0M770 1224h0M572 1283h0M482 1272h0M456 1295h0M675 1241h0M416 1340h0M563 1275h0M673 1316h0M480 1307h0M502 1281h0M357 1329h0M637 1277h0M558 1235h0M601 1256h0M609 1287h0M649 1270h0M774 1270h0M489 1307h0M726 1288h0M785 1153h0M659 1209h0M675 1235h0M675 1260h0M295 1357h0M739 1239h0M592 1324h0M542 1299h0M649 1275h0M279 1352h0M433 1342h0M446 1377h0M397 1379h0M464 1266h0M548 1229h0M319 1293h0M476 1286h0M787 1201h0M355 1303h0M400 1356h0M429 1361h0M476 1272h0M319 1295h0M719 1214h0M300 1354h0M542 1299h0M285 1356h0M658 1274h0M627 1284h0M630 1175h0M420 1343h0M300 1349h0M675 1230h0M774 1216h0M647 1263h0M466 1346h0M396 1315h0M545 1236h0M435 1343h0M298 1343h0M339 1365h0M801 1164h0M719 1192h0M438 1298h0M295 1353h0M572 1328h0M404 1323h0M339 1367h0M613 1288h0M592 1308h0M476 1277h0M288 1338h0M685 1303h0M435 1318h0M311 1353h0M480 1298h0"/>
<path stroke="#26828e" d="M805 1197h0M589 1285h0M556 1262h0M693 1203h0M686 1230h0M677 1272h0M605 1267h0M524 1297h0M673 1228h0M620 1231h0M385 1346h0M649 1303h0M843 1143h0M672 1225h0M478 1329h0M613 1301h0M670 1301h0M486 1331h0M843 1187h0M672 1264h0M556 1266h0M327 1352h0M466 1339h0M513 1211h0M691 1264h0M500 1327h0M760 1280h0M632 1225h0M324 1335h0M620 1336h0M644 1227h0M327 1374h0M686 1219h0M564 1307h0M763 1224h0M529 1340h0M774 1228h0M466 1311h0M617 1272h0M760 1265h0M760 1268h0M526 1302h0M677 1269h0M507 1239h0M390 1357h0M294 1319h0M459 1242h0M790 1203h0M686 1175h0M524 1278h0M620 1242h0M665 1239h0M911 1104h0M848 1139h0M605 1239h0M709 1239h0M473 1295h0M499 1328h0M672 1242h0M489 1282h0M665 1253h0M500 1314h0M750 1242h0M705 1071h0M451 1266h0M511 1313h0M653 1241h0M500 1323h0M315 1318h0M397 1352h0M385 1347h0M665 1261h0M613 1211h0M390 1361h0M620 1273h0M428 1296h0M647 1250h0M709 1206h0M294 1326h0M491 1288h0M574 1285h0M357 1312h0M589 1243h0M682 1191h0M667 1251h0M497 1317h0M677 1282h0M697 1255h0M760 1259h0M596 1281h0M763 1285h0M558 1217h0M763 1236h0M605 1279h0M507 1267h0M511 1287h0M564 1304h0M390 1381h0M682 1194h0M485 1316h0M843 1180h0M672 1241h0M911 1106h0M758 1220h0M505 1293h0M709 1184h0M653 1234h0M605 1258h0M688 1273h0M653 1225h0M513 1259h0M294 1324h0M688 1274h0M693 1238h0M418 1304h0M613 1272h0M341 1326h0M889 1116h0M592 1244h0M327 1359h0M693 1211h0M649 1318h0M513 1258h0M357 1288h0M524 1269h0M327 1377h0M485 1311h0M437 1374h0M517 1277h0M505 1283h0M511 1310h0M518 1349h0M651 1243h0M428 1325h0M507 1261h0M686 1223h0M474 1353h0M294 1300h0M688 1276h0M731 1178h0M609 1239h0M478 1290h0M491 1278h0M607 1271h0M651 1242h0M397 1361h0M518 1320h0M613 1247h0M491 1301h0M473 1251h0M760 1256h0M327 1354h0M679 1234h0M653 1245h0M647 1253h0M500 1336h0M752 1285h0M686 1178h0M482 1298h0M647 1263h0"/>
<path stroke="#471365" d="M538 1275h0M337 1358h0M288 1367h0M755 1280h0M502 1343h0M407 1359h0M591 1313h0M764 1207h0M326 1382h0M349 1339h0M444 1356h0M627 1305h0M275 1334h0M412 1314h0M458 1368h0M764 1193h0M382 1358h0M377 1362h0M827 1153h0M548 1243h0M359 1358h0M572 1347h0M615 1198h0M392 1341h0M384 1336h0M494 1356h0M461 1350h0M730 1269h0M412 1335h0M726 1284h0M298 1366h0M502 1323h0M421 1353h0M308 1348h0M458 1356h0M308 1362h0M599 1288h0M639 1325h0M602 1344h0M551 1334h0M332 1362h0M415 1364h0M332 1353h0M351 1350h0M615 1236h0M447 1318h0M755 1239h0M412 1285h0M764 1240h0M478 1324h0M502 1342h0M424 1367h0M599 1285h0M334 1371h0M726 1244h0M412 1319h0M602 1323h0M827 1179h0M563 1336h0M585 1250h0M285 1357h0M326 1366h0M408 1352h0M275 1321h0M424 1350h0M424 1348h0M470 1345h0M591 1329h0M478 1316h0M438 1325h0M384 1356h0M494 1361h0M736 1285h0M392 1365h0M392 1346h0M827 1151h0M402 1376h0M827 1148h0M364 1361h0M585 1295h0M425 1374h0M396 1297h0M299 1366h0M447 1319h0M454 1330h0M361 1361h0M362 1346h0M736 1262h0M330 1366h0M336 1364h0M447 1311h0M439 1350h0M538 1311h0M563 1357h0M407 1335h0M392 1337h0M355 1360h0M425 1351h0M361 1346h0M441 1327h0M461 1344h0M494 1334h0M538 1302h0M317 1322h0M412 1328h0M538 1350h0M554 1312h0M317 1309h0M439 1336h0M412 1299h0M289 1356h0M283 1357h0M538 1294h0M347 1373h0M736 1258h0M736 1290h0M381 1341h0M458 1359h0M722 1250h0M425 1354h0M435 1362h0M317 1338h0M659 1287h0M326 1362h0M563 1356h0M458 1343h0M456 1299h0M538 1249h0M425 1380h0M439 1360h0M538 1300h0M421 1350h0M827 1237h0M326 1380h0M381 1379h0M827 1162h0M538 1288h0M461 1366h0M361 1355h0M478 1316h0M755 1281h0M769 1203h0M635 1162h0M319 1339h0M615 1250h0M494 1334h0M362 1367h0M736 1262h0M534 1325h0M355 1354h0M362 1359h0M554 1304h0M551 1352h0M349 1333h0M351 1338h0M326 1382h0M288 1374h0M285 1358h0M359 1372h0M275 1334h0M367 1337h0M454 1330h0M736 1268h0M470 1342h0M444 1335h0M407 1366h0M377 1357h0M330 1370h0M454 1325h0M412 1320h0M470 1356h0M599 1273h0M307 1375h0M289 1369h0M554 1315h0M326 1366h0M461 1358h0M755 1242h0"/>
<path stroke="#d8e219" d="M1158 1137h0M1159 654h0M305 1316h0M791 1148h0M1196 858h0M370 1303h0M1206 1106h0M561 1240h0M772 1224h0M1182 806h0M1119 1131h0M698 1168h0M1463 285h0M729 1151h0M747 1186h0M745 1152h0M561 1233h0M1648 319h0M754 1153h0M1343 950h0M1343 600h0M698 1156h0M698 1155h0M512 1248h0M742 1228h0M1119 992h0M1321 908h0M305 1335h0M791 1176h0M575 1295h0M767 1219h0M1265 744h0M747 1154h0M747 1175h0M694 1282h0M305 1324h0M512 1243h0M643 1216h0M1131 882h0M747 1222h0M1235 798h0M742 1215h0M1158 1224h0M747 1196h0M791 1146h0M742 1228h0M509 1261h0M694 1226h0M754 1144h0M570 1258h0M568 1240h0M742 1219h0M575 1288h0M385 1222h0M817 1101h0M1131 933h0M1158 1144h0M747 1221h0M1141 820h0M734 1102h0M370 1301h0M754 1161h0M1119 784h0M747 1228h0M643 1207h0M1119 753h0M509 1269h0M344 1276h0M512 1238h0M509 1269h0M812 1153h0M745 1176h0M575 1306h0M405 1309h0M643 1203h0M617 1247h0M1131 922h0M1131 927h0M370 1314h0M791 1176h0M431 1259h0M512 1258h0M701 1252h0M372 1359h0M1119 779h0M305 1317h0M561 1223h0M1119 1014h0M370 1318h0M694 1269h0M747 1228h0M812 1192h0M791 1167h0M812 1188h0M747 1194h0M1235 631h0M617 1230h0M568 1242h0M1119 1043h0M575 1301h0M754 1155h0M570 1260h0M1196 957h0M1206 1095h0M754 1148h0M1119 799h0M713 1168h0M509 1265h0M742 1238h0M1141 712h0M533 1255h0M1235 787h0M512 1218h0M1196 887h0M772 1223h0M352 1204h0M791 1156h0M791 1158h0M597 1222h0M1196 1149h0M857 1145h0M742 1224h0M812 1144h0M305 1323h0"/>
<path stroke="#2db27d" d="M752 1259h0M823 1121h0M693 1182h0M385 1341h0M797 1138h0M486 1332h0M797 1132h0M523 1323h0M738 1193h0M630 1173h0M428 1329h0M760 1258h0M556 1257h0M580 1250h0M1347 1064h0M691 1250h0M688 1261h0M688 1292h0M750 1242h0M670 1264h0M405 1327h0M385 1342h0M529 1348h0M556 1236h0M459 1235h0M589 1216h0M653 1262h0M843 1162h0M758 1230h0M630 1190h0M604 1344h0M698 1177h0M520 1273h0M566 1242h0M294 1327h0M705 1193h0M823 1128h0M619 1255h0M480 1263h0M523 1326h0M584 1266h0M811 1172h0M821 1158h0M715 1201h0M372 1337h0M327 1337h0M518 1330h0M619 1292h0M526 1266h0M584 1292h0M644 1211h0M607 1242h0M385 1342h0M431 1270h0M556 1233h0M632 1253h0M526 1279h0M916 1160h0M843 1162h0M520 1307h0M717 1225h0M521 1284h0M823 1129h0M459 1251h0M523 1327h0M729 1238h0M738 1182h0M529 1339h0M520 1283h0M653 1210h0M596 1275h0M410 1136h0M550 1273h0M644 1196h0M840 1186h0M760 1254h0M688 1279h0M597 1211h0M497 1320h0M526 1283h0M521 1283h0M584 1287h0M558 1222h0M656 1201h0M689 1269h0M459 1230h0M665 1165h0M578 1227h0M629 1313h0M520 1331h0M385 1316h0M705 1176h0M729 1191h0M414 1298h0M597 1240h0M523 1329h0M720 1214h0M344 1311h0M793 1177h0M673 1205h0M558 1224h0M843 1164h0M704 1312h0M300 1344h0M720 1213h0M545 1250h0M673 1239h0M459 1235h0M805 1155h0M632 1246h0M597 1228h0M790 1157h0M473 1270h0M431 1271h0M613 1221h0M647 1243h0M709 1144h0M431 1279h0M513 1203h0M1018 1036h0M629 1292h0M715 1217h0M596 1284h0M513 1203h0M520 1316h0M968 1157h0M596 1274h0M689 1230h0M758 1246h0"/>
<path stroke="#46337f" d="M310 1353h0M366 1357h0M553 1337h0M390 1380h0M781 1250h0M480 1306h0M408 1342h0M352 1361h0M355 1313h0M402 1380h0M567 1347h0M321 1318h0M364 1344h0M330 1350h0M317 1331h0M418 1324h0M435 1348h0M513 1253h0M300 1343h0M532 1322h0M420 1362h0M367 1316h0M659 1246h0M548 1255h0M774 1255h0M468 1347h0M582 1321h0M317 1349h0M416 1363h0M630 1218h0M601 1259h0M321 1322h0M726 1229h0M468 1341h0M781 1229h0M400 1376h0M722 1220h0M548 1276h0M416 1362h0M582 1312h0M591 1328h0M366 1351h0M781 1252h0M636 1258h0M355 1361h0M468 1334h0M601 1259h0M420 1376h0M480 1282h0M275 1313h0M375 1374h0M613 1309h0M778 1273h0M461 1327h0M534 1354h0M402 1354h0M750 1267h0M366 1368h0M613 1276h0M288 1369h0M700 1271h0M362 1347h0M601 1245h0M425 1341h0M547 1351h0M667 1240h0M416 1361h0M319 1333h0M396 1342h0M769 1222h0M339 1377h0M337 1354h0M730 1274h0M610 1253h0M339 1382h0M778 1254h0M778 1254h0M675 1269h0M342 1368h0M456 1296h0M637 1339h0M548 1233h0M321 1320h0M452 1317h0M414 1324h0M609 1286h0M778 1257h0M551 1336h0M352 1363h0M435 1356h0M337 1352h0M655 1279h0M336 1373h0M495 1320h0M636 1239h0M283 1360h0M700 1267h0M801 1198h0M446 1377h0M700 1275h0M725 1241h0M449 1349h0M659 1247h0M725 1224h0M317 1340h0M433 1361h0M393 1345h0M446 1377h0M330 1344h0M542 1312h0M725 1271h0M502 1281h0M504 1272h0M317 1331h0M637 1322h0M311 1377h0M355 1321h0M315 1361h0M726 1290h0M633 1265h0M402 1343h0M585 1210h0M392 1353h0M532 1327h0M667 1266h0M435 1365h0M582 1327h0M275 1335h0M582 1308h0M572 1343h0M424 1344h0M311 1358h0M367 1305h0M711 1287h0M553 1328h0M567 1345h0M633 1261h0M495 1317h0M393 1339h0M558 1290h0M425 1339h0M774 1286h0M435 1352h0M610 1266h0M585 1235h0"/>
<path stroke="#58c765" d="M758 1230h0M767 1230h0M743 1145h0M515 1289h0M811 1179h0M313 1315h0M580 1248h0M556 1219h0M405 1343h0M520 1186h0M672 1251h0M941 1077h0M497 1241h0M486 1281h0M832 1174h0M561 1277h0M561 1223h0M344 1287h0M497 1253h0M738 1233h0M509 1264h0M623 1208h0M629 1275h0M597 1232h0M805 1161h0M346 1329h0M1039 920h0M604 1293h0M517 1283h0M887 1126h0M584 1291h0M478 1309h0M843 1154h0M694 1235h0M512 1262h0M539 1307h0M891 1039h0M767 1194h0M832 1200h0M619 1294h0M843 1177h0M672 1221h0M515 1278h0M794 1096h0M811 1145h0M651 1243h0M911 1092h0M431 1273h0M767 1186h0M357 1281h0M630 1169h0M597 1227h0M397 1373h0M550 1216h0M779 1178h0M518 1287h0M575 1306h0M647 1234h0M821 1095h0M770 1179h0M672 1206h0M647 1246h0M688 1268h0M833 1170h0M523 1326h0M743 1187h0M767 1206h0M489 1291h0M717 1194h0M619 1293h0M520 1267h0M698 1163h0M705 1200h0M520 1296h0M698 1177h0M517 1247h0M812 1120h0M738 1184h0M385 1334h0M829 1125h0M556 1236h0M389 1293h0M772 1202h0M1077 1024h0M738 1222h0M767 1202h0M517 1241h0M346 1334h0M529 1311h0"/>
<path stroke="#75d054" d="M597 1227h0M832 1184h0M745 1195h0M767 1219h0M772 1207h0M521 1271h0M482 1266h0M709 1147h0M811 1156h0M604 1315h0M821 1154h0M670 1289h0M767 1238h0M630 1168h0M489 1305h0M431 1265h0M694 1258h0M743 1141h0M474 1335h0M704 1278h0M619 1263h0M509 1271h0M800 1159h0M713 1205h0M720 1216h0M821 1164h0M735 1261h0M566 1217h0M742 1232h0M619 1280h0M630 1165h0M731 1174h0M772 1203h0M742 1228h0M521 1281h0M405 1333h0M617 1228h0M405 1315h0M738 1240h0M482 1255h0M738 1231h0M596 1304h0M791 1166h0M747 1232h0M604 1315h0M405 1326h0M738 1209h0M623 1208h0M643 1214h0M697 1265h0M512 1258h0M630 1166h0M925 1112h0M738 1190h0M698 1158h0M580 1244h0M346 1327h0M800 1175h0M772 1187h0M811 1176h0M517 1199h0M607 1288h0M512 1254h0M604 1320h0M530 1294h0M509 1275h0M713 1199h0M709 1147h0M745 1214h0M752 1257h0"/>
<path stroke="#3b518b" d="M675 1250h0M609 1278h0M271 1322h0M548 1270h0M491 1331h0M379 1301h0M400 1356h0M610 1245h0M794 1122h0M636 1278h0M505 1316h0M374 1367h0M667 1273h0M374 1359h0M558 1266h0M787 1193h0M524 1309h0M548 1227h0M500 1343h0M500 1340h0M760 1275h0M495 1313h0M462 1358h0M551 1304h0M271 1349h0M437 1323h0M781 1263h0M750 1260h0M367 1327h0M715 1261h0M613 1250h0M317 1313h0M613 1262h0M646 1306h0M473 1336h0M462 1324h0M794 1124h0M685 1304h0M725 1204h0M295 1352h0M311 1358h0M637 1253h0M420 1333h0M591 1323h0M622 1328h0M468 1334h0M446 1377h0M392 1334h0M582 1308h0M601 1267h0M787 1205h0M332 1316h0M658 1281h0M665 1297h0M379 1315h0M379 1296h0M275 1311h0M778 1218h0M435 1333h0M558 1249h0M404 1346h0M778 1231h0M760 1254h0M637 1339h0M778 1233h0M288 1339h0M349 1344h0M548 1246h0M468 1340h0M433 1333h0M587 1297h0M319 1320h0M685 1277h0M774 1251h0M327 1375h0M700 1250h0M730 1278h0M622 1335h0M620 1298h0M649 1314h0M649 1328h0M668 1285h0M324 1385h0M547 1343h0M646 1311h0M658 1276h0M480 1303h0M449 1356h0M466 1330h0M711 1245h0M500 1303h0M446 1334h0M349 1356h0M397 1377h0M444 1299h0M271 1325h0M379 1311h0M480 1278h0M739 1236h0M374 1353h0M452 1297h0M641 1335h0M292 1358h0M470 1318h0M429 1358h0M760 1270h0M801 1180h0M283 1344h0M295 1371h0M473 1329h0M397 1377h0M459 1256h0M429 1367h0M429 1365h0M452 1298h0M709 1267h0M613 1275h0M295 1371h0M397 1377h0M327 1374h0M622 1329h0M563 1297h0M548 1237h0M298 1344h0M719 1218h0M435 1348h0M341 1329h0M633 1279h0"/>
<path stroke="#355e8d" d="M601 1236h0M679 1249h0M275 1325h0M637 1224h0M547 1360h0M686 1232h0M610 1246h0M315 1314h0M591 1299h0M319 1304h0M644 1245h0M324 1385h0M342 1323h0M589 1266h0M719 1185h0M444 1292h0M649 1283h0M672 1242h0M482 1327h0M750 1231h0M774 1260h0M592 1322h0M574 1290h0M548 1201h0M399 1360h0M429 1321h0M594 1345h0M364 1303h0M685 1286h0M658 1283h0M485 1342h0M620 1267h0M620 1273h0M793 1185h0M609 1287h0M609 1270h0M817 1124h0M558 1244h0M500 1321h0M620 1299h0M374 1372h0M817 1240h0M790 1204h0M817 1216h0M673 1305h0M673 1275h0M324 1361h0M452 1320h0M547 1360h0M641 1283h0M449 1332h0M500 1324h0M655 1285h0M428 1290h0M499 1327h0M835 1193h0M367 1302h0M433 1306h0M438 1311h0M452 1306h0M601 1277h0M390 1350h0M719 1175h0M429 1349h0M620 1272h0M349 1323h0M801 1188h0M785 1146h0M480 1290h0M524 1308h0M620 1309h0M462 1330h0M675 1228h0M801 1168h0M620 1271h0M324 1337h0M500 1342h0M601 1255h0M641 1280h0M770 1202h0M622 1276h0M319 1311h0M536 1306h0M466 1329h0M787 1220h0M449 1330h0M499 1325h0M437 1322h0M367 1341h0M369 1322h0M601 1249h0M667 1232h0M315 1342h0M349 1353h0M675 1229h0M476 1280h0M484 1301h0M572 1316h0M458 1299h0M672 1267h0M500 1324h0M637 1263h0M719 1161h0M536 1313h0M572 1312h0M835 1199h0M476 1286h0M429 1334h0M271 1327h0M433 1304h0M435 1324h0M641 1328h0M279 1351h0M505 1308h0M446 1328h0M796 1178h0M374 1356h0M622 1314h0M719 1167h0M613 1258h0"/>
<path stroke="#2a778e" d="M311 1335h0M473 1297h0M770 1200h0M707 1219h0M752 1280h0M589 1272h0M790 1202h0M390 1373h0M630 1181h0M484 1297h0M428 1280h0M429 1320h0M667 1226h0M513 1276h0M677 1309h0M500 1334h0M473 1330h0M279 1347h0M647 1251h0M392 1334h0M685 1252h0M529 1355h0M750 1231h0M851 1200h0M580 1292h0M418 1338h0M758 1270h0M524 1284h0M466 1328h0M667 1275h0M327 1355h0M558 1231h0M482 1291h0M817 1242h0M429 1317h0M966 1077h0M591 1326h0M817 1112h0M697 1215h0M667 1246h0M667 1250h0M339 1359h0M790 1178h0M392 1328h0M505 1279h0M752 1274h0M491 1296h0M649 1326h0M715 1254h0M719 1201h0M449 1330h0M444 1297h0M758 1254h0M499 1320h0M533 1357h0M656 1280h0M369 1325h0M763 1226h0M392 1333h0M644 1232h0M367 1298h0M357 1307h0M513 1247h0M473 1291h0M523 1338h0M357 1292h0M793 1218h0M796 1169h0M796 1181h0M658 1295h0M507 1246h0M349 1338h0M311 1335h0M545 1240h0M760 1240h0M672 1270h0M592 1305h0M607 1308h0M623 1217h0M592 1309h0M620 1261h0M637 1267h0M697 1248h0M587 1334h0M607 1307h0M473 1285h0M686 1200h0M620 1274h0M529 1343h0M300 1345h0M324 1359h0M489 1309h0M670 1283h0M558 1227h0M545 1241h0M513 1289h0M541 1338h0M271 1325h0M446 1360h0M843 1143h0M564 1289h0M752 1296h0M523 1338h0M750 1243h0M389 1312h0M612 1289h0M668 1282h0M592 1300h0M399 1328h0M547 1355h0M271 1353h0M300 1336h0M774 1217h0M385 1358h0M513 1238h0M709 1214h0M324 1354h0M324 1319h0M763 1274h0M688 1276h0M665 1290h0M428 1315h0M767 1283h0M691 1258h0M622 1238h0M533 1336h0M725 1229h0M324 1340h0M677 1312h0M357 1326h0M620 1272h0M315 1302h0M485 1313h0M500 1316h0M428 1319h0M709 1180h0M474 1368h0M667 1245h0M641 1279h0M620 1302h0M656 1237h0M763 1249h0M686 1180h0M672 1280h0M607 1312h0"/>
<path stroke="#26828e" d="M311 1325h0M500 1315h0M596 1335h0M668 1268h0M889 1113h0M547 1360h0M649 1240h0M672 1232h0M435 1324h0M653 1240h0M389 1301h0M717 1224h0M801 1157h0M644 1202h0M796 1167h0M641 1320h0M547 1344h0M793 1158h0M521 1329h0M511 1296h0M717 1232h0M843 1159h0M324 1348h0M670 1258h0M704 1289h0M511 1296h0M491 1274h0M626 1225h0M916 1205h0M739 1230h0M478 1291h0M693 1224h0M435 1332h0M774 1286h0M647 1264h0M511 1312h0M630 1188h0M526 1275h0M324 1318h0M271 1309h0M677 1294h0M641 1289h0M385 1334h0M693 1205h0M848 1127h0M619 1256h0M518 1336h0M482 1266h0M790 1170h0M653 1246h0M473 1292h0M480 1279h0M896 1025h0M667 1208h0M774 1244h0M672 1239h0M466 1328h0M500 1316h0M545 1227h0M369 1318h0M558 1228h0M513 1272h0M589 1218h0M480 1284h0M673 1294h0M854 1099h0M705 1078h0M587 1284h0M743 1215h0M511 1327h0M428 1322h0M658 1300h0M478 1314h0M673 1251h0M594 1320h0M507 1255h0M689 1257h0M435 1328h0M854 1093h0M444 1303h0M853 1124h0M283 1315h0M459 1248h0M294 1319h0M513 1239h0M349 1330h0M589 1294h0M390 1359h0M545 1234h0M672 1207h0M399 1340h0M271 1331h0M715 1262h0M524 1294h0M279 1332h0M589 1285h0M649 1236h0M709 1233h0M796 1186h0M520 1319h0M349 1329h0M313 1337h0M619 1285h0M459 1261h0M547 1360h0M612 1292h0M385 1343h0M620 1284h0M679 1218h0M589 1290h0M607 1286h0M649 1294h0M675 1217h0M843 1172h0M644 1211h0M518 1336h0M489 1295h0M673 1212h0M613 1279h0M397 1361h0M324 1362h0M478 1293h0M649 1278h0M689 1313h0M760 1231h0M787 1179h0M513 1234h0M500 1331h0M605 1244h0M774 1221h0M596 1281h0M428 1331h0M390 1378h0M796 1179h0M396 1293h0M939 1133h0M452 1289h0M677 1268h0M686 1181h0M564 1292h0M533 1336h0M473 1308h0M760 1253h0M491 1261h0M637 1253h0M545 1243h0M717 1241h0M545 1238h0M521 1310h0M632 1219h0M533 1323h0M661 1306h0M584 1304h0M556 1269h0M580 1296h0M589 1288h0"/>
<path stroke="#2f6b8e" d="M620 1321h0M731 1189h0M750 1234h0M726 1222h0M451 1304h0M851 1184h0M418 1292h0M524 1301h0M709 1248h0M796 1162h0M752 1262h0M801 1171h0M505 1291h0M435 1331h0M446 1314h0M817 1220h0M1119 996h0M470 1316h0M526 1298h0M379 1305h0M731 1189h0M785 1151h0M673 1305h0M686 1236h0M801 1150h0M637 1255h0M801 1194h0M545 1231h0M594 1315h0M817 1231h0M672 1266h0M884 1165h0M428 1288h0M835 1186h0M279 1353h0M651 1272h0M653 1272h0M725 1205h0M397 1384h0M324 1366h0M589 1272h0M677 1312h0M385 1351h0M511 1309h0M823 1200h0M459 1242h0M594 1326h0M511 1297h0M485 1352h0M390 1366h0M418 1306h0M473 1334h0M446 1292h0M607 1350h0M446 1299h0M374 1374h0M486 1327h0M632 1241h0M300 1351h0M459 1290h0M644 1244h0M339 1359h0M620 1285h0M392 1333h0M801 1173h0M646 1275h0M673 1290h0M658 1296h0M787 1196h0M397 1360h0M458 1273h0M379 1285h0M399 1349h0M641 1290h0M647 1247h0M334 1318h0M851 1210h0M428 1302h0M485 1323h0M677 1316h0M271 1358h0M545 1232h0M369 1316h0M617 1282h0M587 1304h0M574 1315h0M587 1324h0M715 1256h0M609 1281h0M817 1118h0M324 1360h0M817 1094h0M295 1341h0M605 1251h0M596 1287h0M499 1332h0M750 1240h0M271 1310h0M739 1247h0M867 1163h0M500 1328h0M379 1305h0M691 1252h0M851 1196h0M592 1276h0M867 1167h0M564 1307h0M300 1330h0M484 1294h0M763 1284h0M796 1157h0M558 1225h0M841 1194h0M574 1302h0M592 1336h0M649 1249h0M667 1298h0M884 1151h0M500 1326h0M507 1264h0M829 1159h0M327 1373h0M637 1233h0M641 1282h0M667 1248h0M511 1301h0M591 1317h0M658 1276h0M271 1323h0M750 1231h0M428 1315h0M369 1313h0M545 1231h0M796 1152h0M279 1355h0M485 1314h0M658 1287h0"/>
<path stroke="#440154" d="M285 1371h0M615 1251h0M736 1246h0M722 1276h0M769 1229h0M412 1330h0M478 1324h0M538 1300h0M769 1194h0M538 1317h0M441 1321h0M275 1324h0M464 1265h0M427 1354h0M359 1373h0M359 1363h0M769 1228h0M585 1301h0M412 1327h0M504 1282h0M478 1316h0M478 1326h0M381 1379h0M476 1287h0M627 1303h0M438 1336h0M456 1326h0M452 1325h0M408 1348h0M725 1252h0M464 1294h0M456 1338h0M538 1332h0M755 1227h0M317 1331h0M355 1349h0M299 1375h0M381 1374h0M730 1293h0M321 1344h0M408 1365h0M659 1301h0M444 1368h0M308 1361h0M470 1322h0M355 1357h0M769 1184h0M317 1361h0M326 1358h0M725 1232h0M444 1361h0M591 1325h0M285 1365h0M635 1192h0M478 1322h0M438 1316h0M390 1381h0M599 1199h0M285 1373h0M444 1356h0M447 1322h0M726 1291h0M332 1367h0M326 1381h0M726 1257h0M591 1352h0M602 1344h0M321 1369h0M736 1252h0M441 1319h0M585 1297h0M736 1272h0M878 1189h0M736 1257h0M441 1321h0M591 1352h0M446 1377h0M635 1201h0M361 1369h0M321 1357h0M308 1378h0M554 1325h0M639 1299h0M711 1298h0M722 1250h0M412 1285h0M502 1340h0M736 1264h0M464 1283h0M769 1233h0M454 1333h0M361 1358h0M447 1315h0M275 1340h0M470 1359h0M878 1195h0M504 1263h0M722 1249h0M289 1350h0M408 1370h0M478 1319h0M1021 965h0M659 1320h0M538 1247h0M285 1370h0M639 1307h0M827 1201h0M554 1343h0M476 1295h0M615 1223h0M736 1263h0M681 1302h0M381 1300h0M1039 1263h0M407 1349h0M599 1287h0M367 1365h0M439 1365h0M554 1301h0M427 1348h0M317 1325h0M384 1351h0M681 1302h0M427 1373h0M410 1362h0M367 1328h0M326 1382h0M636 1284h0M412 1302h0M326 1375h0M361 1372h0M464 1306h0M722 1263h0M681 1305h0M659 1291h0M470 1326h0M602 1328h0M470 1365h0M461 1353h0M764 1216h0M275 1342h0M538 1335h0M585 1298h0M538 1309h0M635 1160h0M285 1360h0M441 1314h0M332 1371h0M585 1293h0M351 1371h0M412 1344h0M381 1376h0M285 1368h0M326 1380h0M725 1254h0M454 1330h0M367 1344h0M285 1359h0M635 1213h0M321 1353h0M367 1378h0M412 1323h0M362 1364h0M585 1286h0M876 1108h0M441 1292h0M438 1371h0M326 1382h0M285 1373h0M464 1289h0M769 1202h0M1039 1255h0M807 1201h0M755 1292h0M639 1301h0M773 1135h0M769 1188h0M591 1334h0M599 1288h0M725 1253h0M494 1349h0M711 1273h0M425 1368h0M502 1331h0M275 1346h0M441 1316h0M764 1209h0M351 1356h0M439 1340h0M377 1371h0M726 1256h0M940 1052h0M377 1367h0M412 1286h0M321 1340h0M764 1207h0M285 1359h0M464 1282h0M382 1348h0M377 1371h0M504 1270h0M585 1278h0M878 1173h0M478 1326h0M639 1311h0M438 1317h0M764 1196h0M387 1381h0M635 1199h0M504 1261h0M659 1278h0M299 1375h0M317 1348h0M355 1356h0"/>
<path stroke="#40bd72" d="M385 1342h0M767 1196h0M520 1287h0M313 1329h0M489 1255h0M520 1291h0M619 1279h0M705 1160h0M550 1273h0M520 1279h0M644 1195h0M344 1308h0M713 1204h0M704 1312h0M752 1270h0M530 1289h0M486 1295h0M697 1236h0M584 1270h0M478 1300h0M688 1258h0M656 1204h0M644 1195h0M566 1290h0M697 1237h0M717 1205h0M520 1272h0M679 1218h0M752 1265h0M539 1262h0M617 1308h0M517 1212h0M561 1232h0M735 1295h0M617 1288h0M623 1199h0M617 1280h0M843 1149h0M539 1246h0M580 1259h0M785 1123h0M704 1306h0M697 1230h0M526 1280h0M405 1323h0M517 1254h0M632 1229h0M397 1351h0M521 1276h0M561 1253h0M767 1197h0M811 1157h0M647 1249h0M324 1310h0M580 1256h0M632 1233h0M604 1313h0M520 1313h0M691 1256h0M556 1234h0M735 1295h0M641 1254h0M385 1326h0M670 1274h0M431 1272h0M663 1276h0M750 1242h0M418 1310h0M705 1189h0M539 1244h0M431 1271h0M629 1301h0M983 1127h0M704 1292h0M738 1218h0M372 1343h0M688 1281h0M473 1266h0M561 1216h0M451 1294h0M632 1210h0M717 1214h0M821 1214h0M596 1314h0M515 1286h0M474 1361h0M405 1312h0M486 1335h0M533 1262h0M515 1268h0M697 1228h0M596 1265h0M670 1269h0M704 1286h0M489 1270h0M772 1201h0M742 1231h0M641 1252h0M619 1274h0M346 1323h0M717 1192h0M524 1283h0M556 1247h0M596 1257h0"/>
<path stroke="#1e9b8a" d="M689 1258h0M357 1284h0M604 1327h0M617 1262h0M513 1267h0M404 1242h0M770 1202h0M313 1329h0M651 1240h0M294 1317h0M357 1277h0M473 1240h0M397 1354h0M649 1294h0M811 1193h0M315 1308h0M673 1205h0M679 1249h0M605 1265h0M790 1158h0M626 1214h0M670 1285h0M385 1324h0M693 1190h0M596 1301h0M843 1147h0M691 1262h0M545 1226h0M658 1293h0M790 1189h0M811 1189h0M643 1264h0M580 1255h0M397 1357h0M752 1259h0M704 1307h0M428 1312h0M760 1247h0M517 1239h0M715 1220h0M507 1260h0M752 1247h0M617 1301h0M529 1365h0M459 1278h0M584 1302h0M796 1174h0M578 1268h0M357 1287h0M478 1312h0M607 1260h0M607 1236h0M482 1278h0M344 1312h0M566 1280h0M524 1298h0M607 1297h0M578 1276h0M670 1290h0M529 1322h0M558 1234h0M738 1194h0M294 1325h0M717 1209h0M594 1275h0M617 1315h0M709 1171h0M607 1300h0M556 1271h0M518 1338h0M327 1364h0M349 1323h0M758 1209h0M738 1221h0M584 1296h0M644 1190h0M324 1353h0M349 1320h0M752 1289h0M511 1288h0M672 1211h0M315 1310h0M428 1294h0M774 1227h0M715 1192h0M473 1275h0M613 1247h0M693 1239h0M805 1161h0M632 1200h0M523 1324h0M390 1368h0M390 1363h0M518 1306h0M294 1327h0M811 1193h0M752 1280h0M677 1274h0M604 1338h0M752 1259h0M653 1259h0M649 1265h0M607 1274h0M357 1287h0M770 1192h0M607 1333h0M533 1311h0M750 1238h0M750 1250h0M294 1315h0M630 1173h0M397 1367h0M385 1324h0M530 1320h0M758 1250h0M693 1188h0M500 1320h0M482 1262h0M523 1320h0M357 1307h0M556 1235h0M405 1314h0M682 1189h0M385 1348h0M385 1330h0M596 1277h0M526 1282h0M385 1346h0M673 1206h0M584 1291h0M739 1231h0M709 1164h0M605 1277h0M707 1248h0M619 1254h0M668 1309h0M507 1243h0M760 1243h0M379 1281h0M637 1309h0M717 1227h0M670 1258h0M564 1279h0M379 1265h0M939 1129h0M529 1353h0M580 1257h0M607 1296h0M672 1214h0M523 1325h0M911 1108h0M558 1234h0M843 1143h0M854 1090h0"/>
<path stroke="#21a685" d="M313 1330h0M632 1230h0M774 1237h0M656 1209h0M578 1250h0M619 1253h0M709 1150h0M385 1350h0M372 1344h0M693 1197h0M486 1315h0M459 1226h0M315 1314h0M473 1316h0M629 1218h0M405 1314h0M580 1257h0M596 1264h0M811 1164h0M715 1276h0M644 1220h0M843 1154h0M385 1348h0M797 1140h0M605 1251h0M843 1179h0M405 1324h0M327 1346h0M459 1251h0M349 1307h0M607 1283h0M607 1303h0M693 1199h0M530 1289h0M584 1284h0M520 1328h0M486 1369h0M688 1266h0M524 1306h0M521 1288h0M843 1171h0M731 1176h0M673 1248h0M629 1247h0M821 1161h0M693 1197h0M697 1266h0M451 1305h0M729 1185h0M704 1279h0M518 1327h0M397 1370h0M691 1246h0M619 1268h0M556 1248h0M758 1243h0M294 1331h0M459 1230h0M709 1164h0M651 1262h0M619 1279h0M530 1313h0M670 1304h0M670 1254h0M294 1327h0M521 1299h0M767 1255h0M670 1297h0M341 1330h0M797 1130h0M404 1257h0M385 1325h0M550 1276h0M529 1314h0M653 1272h0M653 1253h0M672 1194h0M641 1254h0M520 1327h0M632 1252h0M661 1303h0M629 1254h0M511 1304h0M545 1234h0M478 1297h0M752 1262h0M397 1361h0M774 1256h0M605 1219h0M520 1336h0M735 1283h0M294 1315h0M517 1279h0M520 1302h0M520 1335h0M589 1262h0M632 1235h0M520 1347h0M670 1258h0M607 1296h0M649 1298h0M357 1290h0M520 1342h0M523 1333h0M670 1300h0M632 1262h0M405 1313h0M518 1322h0M672 1224h0M558 1224h0M520 1309h0M545 1228h0M523 1320h0M704 1304h0M271 1324h0M597 1239h0M300 1319h0M688 1268h0M556 1230h0M533 1342h0M649 1265h0M758 1243h0M668 1285h0M529 1356h0M619 1267h0M811 1177h0M346 1328h0M647 1225h0M752 1247h0M589 1237h0M428 1287h0M679 1219h0M558 1231h0M623 1249h0M556 1225h0M533 1328h0M556 1273h0M715 1207h0M313 1298h0M344 1312h0M478 1309h0M529 1353h0M556 1269h0M715 1207h0M644 1205h0M760 1252h0"/>
<path stroke="#b5de2b" d="M346 1334h0M653 1254h0M474 1330h0M604 1317h0M566 1226h0M512 1251h0M568 1227h0M575 1299h0M597 1236h0M701 1223h0M812 1200h0M632 1182h0M1119 925h0M405 1329h0M791 1154h0M743 1144h0M853 1105h0M779 1172h0M821 1157h0M864 1113h0M643 1241h0M512 1282h0M738 1214h0M305 1321h0M800 1162h0M597 1232h0M623 1193h0M720 1202h0M754 1203h0M791 1158h0M451 1293h0M509 1280h0M754 1203h0M713 1171h0M767 1204h0M698 1154h0M772 1192h0M864 1111h0M742 1219h0M753 1133h0M509 1270h0"/>
<path stroke="#414287" d="M438 1334h0M781 1228h0M355 1333h0M848 1176h0M585 1270h0M620 1292h0M611 1173h0M402 1349h0M323 1355h0M271 1320h0M315 1324h0M513 1291h0M574 1314h0M591 1338h0M476 1271h0M542 1322h0M285 1361h0M342 1365h0M585 1241h0M548 1238h0M630 1212h0M774 1279h0M435 1337h0M532 1332h0M476 1299h0M366 1363h0M339 1365h0M491 1334h0M437 1352h0M774 1256h0M639 1284h0M778 1233h0M424 1338h0M542 1213h0M601 1253h0M433 1347h0M613 1301h0M374 1356h0M641 1311h0M646 1296h0M319 1343h0M532 1334h0M336 1359h0M364 1330h0M513 1290h0M940 1038h0M966 1117h0M310 1351h0M300 1345h0M637 1335h0M307 1363h0M594 1349h0M778 1276h0M794 1114h0M611 1180h0M547 1351h0M476 1286h0M572 1312h0M933 1160h0M622 1334h0M382 1350h0M794 1120h0M888 1188h0M591 1342h0M311 1360h0M319 1310h0M542 1201h0M292 1353h0M271 1330h0M781 1226h0M300 1349h0M400 1383h0M502 1293h0M577 1274h0M319 1331h0M725 1235h0M577 1291h0M364 1327h0M387 1169h0M673 1303h0M630 1176h0M377 1335h0M502 1284h0M315 1320h0M778 1235h0M355 1327h0M536 1356h0M542 1322h0M281 1348h0M342 1349h0M633 1277h0M449 1370h0M536 1348h0M613 1261h0M438 1298h0M437 1346h0M686 1259h0M390 1380h0M641 1328h0M468 1319h0M420 1341h0M968 1283h0M275 1325h0M319 1300h0M473 1346h0M349 1346h0M371 1221h0M646 1323h0M572 1353h0M420 1344h0M542 1313h0M686 1257h0M722 1182h0M630 1186h0M760 1255h0M317 1334h0M801 1186h0M458 1316h0M303 1373h0M637 1339h0M719 1201h0M342 1364h0M601 1205h0M352 1379h0M655 1306h0M548 1237h0M367 1329h0M781 1205h0M446 1359h0M491 1357h0M352 1353h0M1016 1046h0M574 1304h0M298 1333h0M781 1252h0"/>
<path stroke="#482475" d="M349 1347h0M415 1340h0M473 1358h0M711 1277h0M361 1339h0M425 1342h0M437 1344h0M655 1326h0M700 1268h0M610 1252h0M633 1264h0M321 1332h0M633 1252h0M444 1349h0M352 1355h0M637 1339h0M730 1269h0M334 1362h0M801 1168h0M438 1308h0M367 1314h0M367 1319h0M801 1184h0M464 1266h0M444 1337h0M339 1376h0M639 1297h0M585 1255h0M494 1320h0M458 1334h0M534 1340h0M341 1348h0M281 1348h0M424 1357h0M420 1355h0M275 1327h0M283 1354h0M444 1327h0M452 1328h0M548 1216h0M476 1293h0M577 1309h0M355 1378h0M279 1357h0M781 1257h0M336 1351h0M476 1275h0M585 1275h0M298 1358h0M319 1333h0M319 1313h0M415 1347h0M444 1334h0M476 1282h0M725 1241h0M572 1330h0M700 1267h0M421 1360h0M726 1252h0M655 1286h0M807 1187h0M336 1339h0M420 1369h0M323 1366h0M553 1338h0M553 1352h0M334 1356h0M559 1311h0M534 1354h0M323 1378h0M323 1378h0M421 1352h0M449 1362h0M298 1337h0M639 1286h0M567 1350h0M323 1371h0M659 1259h0M330 1359h0M627 1305h0M289 1356h0M415 1343h0M627 1291h0M433 1348h0M563 1329h0M441 1337h0M630 1204h0M334 1373h0M613 1286h0M613 1285h0M567 1348h0M285 1358h0M559 1319h0M553 1346h0M375 1357h0M361 1341h0M392 1339h0M534 1324h0M553 1347h0M627 1318h0M542 1350h0M384 1343h0M551 1350h0M317 1317h0M585 1223h0M364 1342h0M564 1323h0M319 1338h0M384 1348h0M542 1332h0M334 1373h0M551 1344h0M355 1365h0M636 1246h0M470 1348h0M633 1268h0M504 1278h0M801 1175h0M300 1331h0M551 1328h0M567 1323h0M438 1286h0M470 1357h0M726 1274h0M393 1372h0M420 1357h0M627 1298h0M317 1321h0"/>
<path stroke="#218f8d" d="M300 1336h0M760 1253h0M738 1217h0M327 1346h0M644 1224h0M518 1327h0M840 1179h0M294 1315h0M867 1174h0M390 1322h0M668 1254h0M541 1318h0M843 1182h0M452 1311h0M939 1124h0M677 1270h0M670 1270h0M397 1358h0M672 1235h0M898 1135h0M693 1170h0M743 1215h0M500 1330h0M681 1079h0M617 1223h0M607 1297h0M679 1237h0M566 1217h0M649 1310h0M933 1148h0M613 1195h0M605 1289h0M529 1366h0M693 1216h0M486 1369h0M939 1127h0M324 1334h0M647 1260h0M385 1347h0M889 1111h0M672 1275h0M607 1346h0M726 1236h0M637 1255h0M933 1151h0M369 1326h0M529 1355h0M357 1291h0M649 1310h0M526 1288h0M670 1298h0M670 1294h0M478 1293h0M689 1308h0M357 1284h0M574 1294h0M661 1312h0M524 1308h0M854 1096h0M466 1325h0M884 1188h0M872 1127h0M679 1223h0M682 1207h0M661 1326h0M916 1200h0M770 1193h0M613 1216h0M520 1321h0M760 1257h0M704 1303h0M520 1320h0M569 1061h0M828 1183h0M357 1292h0M529 1316h0M828 1202h0M523 1330h0M750 1234h0M507 1240h0M790 1165h0M558 1218h0M854 1069h0M526 1298h0M752 1261h0M898 1150h0M1039 884h0M418 1302h0M511 1284h0M916 1202h0M889 1131h0M644 1237h0M379 1299h0M584 1304h0M632 1254h0M653 1253h0M620 1255h0M665 1245h0M271 1319h0M752 1293h0M294 1326h0M653 1260h0M626 1209h0M578 1314h0M673 1205h0M518 1291h0M300 1318h0M704 1290h0M324 1317h0M480 1271h0M385 1340h0M473 1296h0M758 1263h0M647 1250h0M653 1239h0M651 1267h0M832 1184h0M689 1320h0M518 1345h0M832 1189h0M431 1277h0M344 1314h0M605 1224h0M966 1084h0M283 1302h0M518 1316h0M785 1106h0M1042 1079h0M726 1245h0M558 1235h0M731 1171h0M284 1258h0M668 1246h0M524 1274h0M872 1099h0M867 1211h0M843 1157h0M428 1336h0M521 1306h0M452 1269h0M486 1332h0M884 1179h0M898 1160h0M521 1300h0M282 1159h0M670 1256h0M704 1299h0M480 1276h0M486 1369h0M607 1323h0M612 1260h0M533 1309h0M715 1246h0M478 1313h0"/>
<path stroke="#95d840" d="M776 1123h0M643 1218h0M704 1106h0M972 1069h0M934 1096h0M800 1179h0M509 1271h0M1248 718h0M698 1155h0M509 1263h0M346 1340h0M530 1291h0M568 1260h0M451 1307h0M509 1275h0M482 1165h0M938 1094h0M372 1358h0M370 1331h0M767 1188h0M853 1114h0M561 1231h0M698 1158h0M619 1274h0M619 1267h0M800 1191h0M566 1203h0M509 1258h0M800 1173h0M619 1265h0M596 1267h0M623 1206h0M372 1081h0M821 1167h0M701 1240h0M530 1254h0M812 1149h0M812 1199h0M530 1248h0M566 1235h0M747 1229h0M772 1222h0M530 1241h0M597 1220h0M556 1228h0M800 1201h0M346 1334h0M530 1273h0M720 1216h0M832 1174h0M327 1133h0M738 1197h0M1039 870h0M604 1344h0M364 1162h0M663 1264h0M753 1127h0M694 1234h0M720 1236h0M617 1242h0M566 1235h0M772 1206h0M511 1226h0M405 1317h0M811 1142h0M698 1171h0M709 922h0M370 1328h0M515 1287h0M512 1247h0M942 1259h0M617 1220h0M805 1153h0M729 1189h0M1097 938h0M779 1147h0M509 1268h0M515 1282h0M619 1278h0M868 1150h0M509 1262h0M747 1197h0M791 1161h0M791 1169h0M597 1231h0M589 1259h0M663 1260h0M431 1259h0M603 1010h0"/>
<path stroke="#355e8d" d="M485 1337h0M339 1361h0M507 1245h0M653 1273h0M592 1342h0M801 1161h0M484 1311h0M682 1179h0M622 1301h0M558 1251h0M355 1306h0M750 1272h0M622 1327h0M644 1252h0M480 1277h0M435 1322h0M452 1305h0M399 1371h0M294 1329h0M739 1233h0M884 1155h0M499 1330h0M357 1296h0M446 1317h0M726 1230h0M390 1359h0M685 1253h0M796 1151h0M485 1352h0M700 1247h0M271 1316h0M613 1282h0M484 1306h0M418 1336h0M770 1218h0M709 1259h0M484 1313h0M807 1212h0M763 1277h0M444 1294h0M489 1301h0M414 1329h0M646 1295h0M399 1327h0M507 1265h0M379 1314h0M452 1258h0M444 1295h0M646 1277h0M750 1242h0M300 1353h0M484 1310h0M760 1257h0M397 1368h0M548 1272h0M752 1270h0M787 1202h0M396 1305h0M271 1325h0M484 1310h0M675 1260h0M399 1349h0M591 1310h0M396 1314h0M717 1248h0M369 1325h0M763 1288h0M673 1298h0M610 1263h0M390 1374h0M397 1380h0M774 1278h0M739 1237h0M499 1328h0M807 1175h0M781 1211h0M641 1262h0M315 1334h0M357 1293h0M416 1341h0M319 1356h0M851 1198h0M731 1191h0M649 1292h0M793 1238h0M592 1317h0M719 1187h0M485 1353h0M466 1345h0M390 1380h0M685 1276h0M502 1294h0M545 1254h0M682 1197h0M452 1302h0M500 1308h0M656 1283h0M793 1220h0M587 1278h0M476 1277h0M489 1308h0M796 1191h0M379 1314h0M658 1269h0M357 1304h0M446 1279h0M283 1326h0M300 1333h0M817 1225h0M429 1359h0M310 1339h0M390 1347h0M429 1328h0M480 1291h0M817 1231h0M505 1315h0M446 1314h0M505 1320h0M763 1278h0M367 1323h0M446 1326h0M610 1250h0M574 1303h0M572 1276h0M613 1291h0"/>
<path stroke="#58c765" d="M769 1121h0M561 1229h0M515 1292h0M779 1169h0M372 1361h0M431 1268h0M770 1172h0M738 1203h0M556 1229h0M575 1310h0M812 1116h0M672 1222h0M580 1241h0M405 1317h0M539 1286h0M742 1245h0M811 1188h0M805 1147h0M821 1188h0M653 1215h0M772 1228h0M738 1227h0M689 1255h0M713 1268h0M389 1297h0M541 1307h0M805 1142h0M405 1312h0M431 1280h0M604 1341h0M630 1164h0M497 1325h0M580 1265h0M663 1249h0M925 1107h0M738 1234h0M743 1141h0M921 1218h0M497 1258h0M561 1226h0M867 1181h0M688 1267h0M520 1285h0M530 1284h0M735 1277h0M604 1344h0M431 1269h0M372 1335h0M459 1248h0M933 1155h0M619 1258h0M369 1277h0M663 1274h0M672 1201h0M515 1265h0M459 1260h0M693 1189h0M720 1247h0M521 1288h0M731 1173h0M512 1258h0M694 1248h0M561 1255h0M466 1332h0M805 1182h0M672 1230h0M829 1193h0M597 1225h0M742 1237h0M800 1202h0M431 1277h0M597 1229h0M925 1118h0M697 1278h0M566 1239h0M743 1147h0M324 1291h0M530 1287h0M767 1211h0M1077 1016h0M556 1233h0M661 1166h0M743 1144h0M451 1303h0M313 1306h0M539 1282h0M750 1235h0M821 1193h0M713 1224h0M630 1177h0M663 1282h0M589 1261h0M682 1204h0M515 1286h0M566 1221h0M459 1260h0M529 1338h0M596 1218h0M580 1232h0M925 1105h0M925 1100h0M772 1215h0M738 1224h0M694 1260h0M794 1091h0M965 964h0M983 1119h0M1083 1041h0"/>
<path stroke="#2a778e" d="M796 1180h0M760 1245h0M271 1356h0M651 1234h0M596 1273h0M594 1349h0M720 1259h0M672 1243h0M392 1321h0M966 1075h0M545 1250h0M835 1183h0M429 1323h0M478 1309h0M396 1263h0M271 1347h0M601 1232h0M480 1266h0M491 1296h0M750 1225h0M517 1218h0M587 1303h0M686 1230h0M843 1154h0M646 1274h0M685 1252h0M319 1274h0M507 1261h0M485 1311h0M760 1259h0M790 1182h0M390 1358h0M594 1337h0M612 1288h0M433 1266h0M677 1314h0M558 1228h0M587 1291h0M369 1312h0M667 1262h0M675 1239h0M796 1171h0M446 1364h0M545 1253h0M357 1328h0M653 1250h0M357 1312h0M587 1310h0M507 1247h0M399 1340h0M511 1283h0M556 1294h0M760 1280h0M327 1373h0M763 1256h0M785 1151h0M451 1337h0M349 1318h0M750 1223h0M626 1204h0M594 1349h0M397 1364h0M620 1260h0M589 1254h0M397 1384h0M617 1262h0M584 1301h0M790 1171h0M817 1245h0M271 1330h0M719 1197h0M499 1337h0M607 1302h0M596 1279h0M685 1257h0M884 1167h0M473 1323h0M444 1309h0M796 1147h0M630 1185h0M271 1349h0M626 1214h0M613 1261h0M369 1334h0M451 1350h0M607 1305h0M524 1315h0M319 1291h0M647 1253h0M774 1253h0M369 1318h0M843 1162h0M760 1263h0M672 1212h0M369 1325h0M760 1268h0M763 1226h0M668 1236h0M760 1256h0M673 1253h0M620 1279h0M807 1202h0M500 1303h0M682 1196h0M446 1348h0M545 1232h0M324 1368h0M644 1257h0M796 1184h0M513 1237h0M594 1322h0M523 1320h0M851 1193h0M414 1318h0M533 1335h0M796 1163h0M327 1363h0M480 1290h0M369 1315h0M547 1347h0"/>
<path stroke="#26828e" d="M521 1327h0M709 1250h0M661 1298h0M473 1246h0M513 1223h0M693 1230h0M667 1297h0M679 1238h0M547 1331h0M770 1209h0M594 1349h0M623 1215h0M349 1315h0M315 1310h0M500 1308h0M390 1363h0M459 1265h0M324 1347h0M591 1286h0M533 1346h0M641 1299h0M673 1265h0M853 1116h0M451 1316h0M346 1318h0M832 1181h0M853 1126h0M511 1295h0M651 1239h0M668 1288h0M294 1324h0M715 1238h0M517 1254h0M414 1309h0M435 1326h0M545 1246h0M677 1311h0M533 1339h0M584 1303h0M672 1259h0M451 1280h0M705 1081h0M518 1333h0M686 1182h0M620 1275h0M596 1321h0M480 1266h0M739 1235h0M556 1271h0M677 1266h0M482 1267h0M673 1269h0M500 1324h0M670 1279h0M369 1318h0M596 1294h0M344 1309h0M473 1304h0M513 1209h0M541 1299h0M715 1207h0M444 1304h0M673 1259h0M558 1233h0M697 1267h0M620 1256h0M619 1273h0M556 1289h0M459 1239h0M587 1297h0M452 1302h0M679 1218h0M691 1264h0M444 1286h0M499 1328h0M474 1368h0M300 1331h0M271 1359h0M533 1308h0M796 1152h0M620 1281h0M349 1333h0M397 1378h0M428 1304h0M451 1334h0M668 1270h0M545 1251h0M717 1221h0M729 1243h0M689 1316h0M793 1173h0M752 1274h0M545 1237h0M545 1240h0M499 1337h0M679 1229h0M491 1290h0M491 1283h0M315 1311h0M369 1311h0M279 1362h0M715 1276h0M605 1255h0M729 1260h0M649 1298h0M541 1331h0M691 1264h0M688 1270h0M770 1213h0M785 1152h0M649 1297h0M428 1336h0M790 1203h0M889 1109h0M709 1195h0M517 1253h0M451 1287h0M843 1178h0M480 1283h0M466 1329h0M500 1323h0M513 1238h0M311 1326h0M620 1250h0M513 1240h0M688 1272h0M682 1200h0M667 1260h0M529 1351h0M511 1280h0M629 1292h0M327 1355h0"/>
<path stroke="#21a685" d="M629 1208h0M459 1267h0M704 1295h0M518 1313h0M313 1323h0M752 1288h0M313 1320h0M397 1361h0M357 1277h0M626 1219h0M707 1222h0M521 1292h0M545 1246h0M729 1236h0M698 1178h0M431 1285h0M649 1294h0M672 1229h0M372 1350h0M670 1263h0M743 1200h0M523 1324h0M566 1218h0M672 1242h0M673 1195h0M313 1329h0M693 1164h0M431 1271h0M694 1239h0M612 1246h0M518 1276h0M843 1183h0M661 1323h0M518 1320h0M524 1282h0M709 1145h0M605 1229h0M313 1338h0M790 1159h0M459 1250h0M623 1233h0M561 1249h0M539 1287h0M644 1193h0M474 1349h0M497 1303h0M385 1314h0M533 1260h0M661 1326h0M385 1320h0M715 1192h0M709 1217h0M752 1277h0M670 1274h0M644 1209h0M529 1307h0M533 1343h0M758 1263h0M704 1298h0M843 1199h0M689 1263h0M596 1254h0M513 1223h0M693 1169h0M389 1294h0M513 1212h0M397 1365h0M589 1246h0M566 1226h0M444 1286h0M735 1284h0M663 1271h0M709 1231h0M715 1258h0M811 1187h0M294 1317h0M843 1149h0M629 1226h0M643 1262h0M385 1344h0M327 1348h0M428 1319h0M632 1238h0M644 1179h0M520 1317h0M668 1257h0M670 1276h0M385 1324h0M644 1207h0M790 1153h0M589 1238h0M752 1267h0M444 1306h0M556 1268h0M533 1308h0M626 1216h0M677 1266h0M709 1154h0M513 1256h0M651 1217h0M672 1215h0M474 1368h0M785 1120h0M596 1300h0M707 1240h0M698 1173h0M511 1295h0M630 1183h0M661 1324h0M707 1234h0M513 1219h0M513 1228h0M617 1233h0M617 1291h0M715 1194h0M697 1247h0M405 1337h0M271 1308h0M697 1214h0M428 1323h0M731 1162h0M550 1268h0M605 1229h0M715 1209h0M705 1210h0M584 1286h0M524 1291h0M607 1273h0M641 1272h0M770 1196h0M584 1294h0M385 1330h0M489 1288h0"/>
<path stroke="#218f8d" d="M649 1317h0M673 1200h0M644 1228h0M594 1349h0M729 1237h0M607 1310h0M497 1325h0M833 1203h0M617 1291h0M375 1208h0M709 1234h0M397 1178h0M617 1276h0M1005 1259h0M324 1337h0M1141 1148h0M677 1285h0M451 1272h0M1343 1101h0M589 1213h0M474 1359h0M1005 1257h0M589 1237h0M526 1300h0M612 1281h0M693 1218h0M709 1169h0M653 1256h0M667 1224h0M541 1333h0M617 1243h0M832 1169h0M675 1210h0M526 1265h0M414 1314h0M526 1299h0M854 1142h0M385 1340h0M511 1297h0M848 1132h0M940 967h0M404 1233h0M444 1294h0M677 1270h0M478 1313h0M677 1263h0M637 1283h0M605 1275h0M670 1293h0M667 1285h0M607 1327h0M693 1223h0M907 1224h0M473 1286h0M653 1262h0M300 1329h0M1005 1261h0M344 1306h0M385 1344h0M898 1152h0M513 1246h0M848 1135h0M294 1320h0M480 1268h0M763 1223h0M513 1240h0M774 1286h0M294 1303h0M838 1166h0M609 1249h0M466 1333h0M693 1202h0M385 1348h0M884 1081h0M889 1136h0M734 1123h0M848 1129h0M691 1261h0M811 1185h0M533 1334h0M545 1257h0M613 1280h0M589 1257h0M735 1295h0M715 1230h0M707 1236h0M843 1186h0M735 1295h0M704 1312h0M805 1178h0M760 1249h0M324 1351h0M550 1286h0M385 1338h0M632 1273h0M647 1258h0M529 1344h0M520 1323h0M717 1240h0M1119 973h0M750 1235h0M444 1290h0M594 1323h0M521 1319h0M357 1279h0M760 1242h0M686 1213h0M693 1179h0M630 1178h0M898 1132h0M670 1275h0M459 1241h0M833 1193h0M679 1207h0M661 1283h0M397 1381h0M785 1145h0M518 1350h0M520 1326h0M1042 1074h0M513 1239h0M880 1162h0M916 1179h0M452 1267h0M717 1202h0M704 1289h0M524 1298h0M605 1250h0M743 1224h0M284 1253h0M738 1208h0M545 1219h0M750 1251h0M578 1300h0M675 1208h0M491 1283h0M760 1242h0M656 1220h0M805 1190h0M785 1154h0M933 1179h0M397 1360h0"/>
<path stroke="#95d840" d="M791 1147h0M689 1240h0M643 1225h0M800 1172h0M864 1119h0M632 1217h0M512 1304h0M397 1210h0M405 1304h0M867 1196h0M623 1228h0M695 1139h0M811 1164h0M597 1230h0M767 1193h0M630 1155h0M286 1295h0M811 1146h0M364 1123h0M738 1174h0M717 1184h0M594 1152h0M864 1121h0M786 1095h0M772 1191h0M643 1215h0M474 1335h0M619 1258h0M619 1278h0M983 1110h0M604 1317h0M431 1283h0M509 1276h0M597 1241h0M509 1268h0M800 1171h0M864 1125h0M867 1198h0M747 1225h0M643 1247h0M521 1282h0M689 1205h0M313 1320h0M705 1156h0M983 1105h0M694 1269h0M533 1259h0M791 1173h0M812 1199h0M720 1217h0M853 1107h0M431 1269h0M720 1230h0M612 1177h0M491 1275h0M566 1223h0M907 1181h0M738 1188h0M346 1322h0"/>
<path stroke="#1e9b8a" d="M688 1298h0M507 1255h0M647 1233h0M693 1186h0M665 1262h0M327 1352h0M466 1335h0M896 1020h0M541 1313h0M647 1233h0M529 1317h0M589 1300h0M758 1212h0M693 1195h0M556 1232h0M521 1312h0M556 1236h0M613 1219h0M843 1178h0M738 1213h0M524 1305h0M707 1223h0M889 1138h0M653 1215h0M520 1351h0M637 1253h0M629 1298h0M760 1263h0M689 1226h0M486 1342h0M511 1279h0M738 1196h0M760 1243h0M617 1296h0M533 1317h0M697 1256h0M735 1294h0M709 1151h0M315 1311h0M418 1297h0M511 1287h0M405 1345h0M691 1264h0M605 1302h0M530 1286h0M550 1275h0M832 1176h0M653 1269h0M513 1239h0M594 1277h0M758 1216h0M511 1292h0M617 1254h0M513 1240h0M752 1259h0M505 1250h0M545 1250h0M473 1276h0M704 1289h0M526 1297h0M811 1236h0M414 1318h0M566 1242h0M705 1168h0M580 1247h0M524 1288h0M533 1328h0M649 1309h0M389 1298h0M529 1363h0M344 1287h0M524 1282h0M499 1327h0M715 1206h0M497 1303h0M584 1281h0M670 1289h0M446 1357h0M491 1274h0M644 1168h0M344 1304h0M607 1281h0M517 1226h0M653 1252h0M530 1286h0M357 1285h0M294 1317h0M668 1254h0M589 1241h0M632 1256h0M530 1320h0M709 1157h0M521 1316h0M390 1369h0M294 1314h0M271 1335h0M529 1366h0M435 1335h0M414 1310h0M709 1182h0M626 1245h0M459 1236h0M473 1264h0M619 1268h0M644 1224h0M513 1220h0M707 1231h0M589 1270h0M294 1327h0M521 1316h0M566 1221h0M717 1238h0M697 1193h0M327 1358h0M644 1240h0M843 1169h0M672 1256h0M607 1267h0M682 1160h0M344 1268h0M556 1280h0M688 1279h0M623 1210h0M523 1324h0M517 1286h0M530 1271h0M530 1273h0M682 1211h0M344 1311h0M459 1249h0M661 1288h0M688 1274h0M605 1204h0M523 1336h0M609 1240h0M533 1312h0M397 1360h0M693 1182h0M677 1242h0M752 1291h0M344 1344h0M589 1275h0M691 1256h0M651 1221h0M444 1319h0M486 1305h0M796 1188h0"/>
<path stroke="#3b518b" d="M396 1323h0M796 1183h0M341 1336h0M613 1279h0M613 1284h0M500 1338h0M658 1283h0M374 1354h0M414 1332h0M429 1332h0M446 1352h0M279 1348h0M622 1321h0M400 1357h0M592 1332h0M342 1335h0M437 1319h0M577 1279h0M760 1253h0M558 1295h0M785 1155h0M462 1336h0M719 1198h0M476 1274h0M355 1308h0M452 1330h0M622 1323h0M685 1304h0M774 1273h0M429 1340h0M489 1316h0M462 1334h0M438 1308h0M310 1362h0M622 1331h0M644 1277h0M435 1330h0M505 1321h0M468 1348h0M349 1355h0M461 1302h0M620 1272h0M505 1321h0M675 1253h0M446 1374h0M781 1222h0M548 1225h0M787 1177h0M349 1330h0M774 1275h0M700 1264h0M646 1328h0M558 1308h0M609 1280h0M667 1260h0M480 1275h0M601 1207h0M315 1330h0M399 1335h0M470 1315h0M620 1288h0M339 1363h0M294 1329h0M545 1251h0M452 1315h0M646 1302h0M491 1348h0M319 1334h0M620 1261h0M379 1294h0M390 1367h0M633 1263h0M399 1330h0M511 1308h0M452 1328h0M572 1319h0M379 1312h0M547 1360h0M480 1290h0M630 1173h0M667 1220h0M641 1287h0M461 1296h0M310 1350h0M558 1221h0M500 1326h0M611 1177h0M774 1277h0M466 1331h0M452 1329h0M807 1219h0M725 1242h0M835 1209h0M429 1334h0M458 1307h0M685 1267h0M502 1292h0M633 1268h0M357 1296h0M491 1289h0M303 1365h0M801 1190h0M794 1118h0M641 1267h0M311 1352h0M536 1313h0M655 1294h0M438 1293h0M558 1267h0M298 1352h0M601 1254h0M408 1339h0M390 1370h0M774 1286h0M835 1190h0M547 1346h0M558 1271h0M622 1315h0M473 1333h0M379 1304h0M807 1224h0M480 1299h0M429 1337h0M778 1226h0M364 1322h0M610 1229h0M452 1333h0M655 1299h0"/>
<path stroke="#471365" d="M559 1312h0M736 1266h0M392 1342h0M538 1287h0M326 1367h0M582 1321h0M433 1366h0M275 1323h0M538 1303h0M599 1234h0M461 1351h0M711 1285h0M494 1340h0M659 1304h0M726 1257h0M478 1330h0M478 1318h0M447 1314h0M337 1347h0M827 1155h0M769 1229h0M764 1242h0M427 1360h0M764 1190h0M551 1338h0M425 1362h0M470 1364h0M444 1365h0M495 1344h0M359 1354h0M355 1350h0M504 1279h0M381 1338h0M458 1345h0M377 1363h0M288 1370h0M334 1372h0M538 1322h0M736 1277h0M736 1275h0M833 1148h0M827 1164h0M425 1355h0M410 1382h0M542 1313h0M381 1369h0M412 1301h0M355 1325h0M633 1272h0M384 1343h0M424 1366h0M736 1236h0M381 1348h0M538 1287h0M420 1367h0M470 1337h0M534 1331h0M615 1220h0M801 1177h0M502 1302h0M404 1333h0M412 1307h0M476 1276h0M554 1308h0M375 1369h0M476 1287h0M769 1185h0M585 1272h0M364 1370h0M478 1326h0M736 1271h0M402 1365h0M308 1358h0M326 1372h0M367 1334h0M412 1314h0M454 1344h0M447 1317h0M446 1339h0M478 1324h0M478 1324h0M495 1348h0M347 1371h0M476 1279h0M334 1359h0M736 1271h0M454 1313h0M736 1266h0M424 1361h0M554 1316h0M461 1356h0M827 1184h0M659 1277h0M444 1350h0M495 1359h0M392 1330h0M764 1198h0M736 1260h0M504 1266h0M412 1299h0M464 1254h0M615 1214h0M574 1328h0M736 1248h0M355 1370h0M454 1307h0M659 1248h0M435 1356h0M410 1369h0M736 1259h0M447 1314h0M476 1289h0M412 1329h0M464 1315h0M585 1278h0M407 1343h0M551 1332h0M454 1230h0M659 1304h0M470 1336h0M864 1136h0M554 1341h0M424 1356h0M326 1362h0M585 1245h0M330 1380h0M454 1351h0M289 1354h0M275 1334h0M454 1323h0M421 1349h0M458 1370h0M412 1313h0M412 1344h0M326 1382h0M438 1332h0M538 1324h0M355 1348h0M725 1242h0M326 1382h0M591 1325h0M441 1327h0M326 1382h0M615 1204h0M827 1148h0M412 1321h0M326 1375h0M554 1311h0M478 1327h0M359 1360h0M326 1382h0M827 1176h0M659 1273h0M542 1346h0M317 1339h0M412 1302h0M736 1254h0M317 1347h0M326 1379h0M567 1355h0M454 1334h0M736 1267h0M769 1171h0M554 1290h0M599 1227h0M736 1300h0M577 1337h0M355 1372h0M769 1188h0M538 1305h0M591 1334h0M736 1287h0M438 1329h0M480 1284h0M755 1243h0M736 1253h0M563 1343h0M615 1221h0M538 1329h0M412 1292h0M534 1356h0M548 1297h0M439 1363h0M534 1345h0M478 1314h0M478 1325h0M377 1339h0M362 1339h0M736 1236h0M412 1294h0M454 1334h0M412 1301h0M351 1346h0M538 1310h0M454 1320h0M538 1314h0M681 1276h0M827 1233h0M377 1339h0M755 1281h0M407 1340h0M736 1260h0M478 1316h0M599 1211h0M559 1348h0M412 1355h0M441 1345h0"/>
<path stroke="#414287" d="M610 1222h0M334 1343h0M536 1334h0M390 1355h0M349 1313h0M711 1249h0M435 1366h0M399 1349h0M283 1345h0M711 1277h0M462 1343h0M366 1346h0M367 1323h0M292 1353h0M700 1239h0M504 1271h0M601 1260h0M646 1324h0M667 1279h0M292 1361h0M655 1288h0M279 1343h0M774 1273h0M564 1296h0M572 1344h0M685 1300h0M449 1354h0M476 1283h0M317 1321h0M807 1209h0M446 1345h0M379 1294h0M418 1324h0M794 1116h0M739 1229h0M801 1176h0M444 1292h0M319 1304h0M505 1321h0M433 1371h0M1039 1118h0M781 1248h0M319 1315h0M774 1286h0M551 1314h0M502 1303h0M319 1339h0M433 1342h0M342 1339h0M1075 898h0M319 1331h0M319 1335h0M438 1286h0M355 1310h0M414 1347h0M548 1231h0M420 1329h0M637 1265h0M668 1289h0M601 1231h0M294 1340h0M444 1309h0M491 1347h0M916 1222h0M587 1295h0M601 1247h0M303 1374h0M673 1294h0M585 1222h0M285 1225h0M548 1224h0M778 1245h0M446 1323h0M355 1348h0M725 1253h0M341 1321h0M416 1357h0M414 1321h0M655 1286h0M896 1047h0M686 1233h0M397 1371h0M470 1318h0M536 1333h0M452 1303h0M793 1216h0M536 1330h0M491 1351h0M591 1343h0M468 1333h0M502 1319h0M610 1259h0M505 1322h0M778 1235h0M399 1344h0M462 1343h0M572 1305h0M476 1297h0M341 1337h0M655 1279h0M675 1254h0M610 1262h0M572 1318h0M577 1290h0M587 1298h0M476 1293h0M446 1367h0M437 1337h0M342 1370h0M424 1209h0M429 1353h0M437 1337h0M311 1375h0M840 1203h0M311 1358h0M572 1313h0M491 1349h0M609 1285h0M342 1370h0M658 1300h0M438 1288h0M458 1320h0M609 1272h0M491 1282h0M591 1324h0M504 1264h0M433 1342h0M672 1282h0M513 1268h0M319 1346h0M491 1339h0M366 1336h0M781 1235h0M646 1322h0M437 1351h0M655 1324h0M416 1341h0M404 1340h0M399 1356h0M637 1327h0M774 1272h0M321 1310h0M462 1317h0M317 1322h0M709 1242h0M730 1275h0M536 1345h0M564 1295h0M620 1288h0M379 1280h0M355 1316h0M1037 1093h0M378 1202h0M785 1163h0"/>
<path stroke="#2f6b8e" d="M851 1191h0M563 1261h0M685 1259h0M414 1331h0M484 1302h0M592 1282h0M916 1167h0M473 1345h0M548 1218h0M835 1200h0M750 1245h0M327 1355h0M872 1144h0M399 1323h0M630 1206h0M500 1343h0M482 1291h0M731 1175h0M658 1287h0M414 1338h0M476 1280h0M499 1331h0M594 1301h0M622 1257h0M500 1337h0M656 1267h0M763 1270h0M271 1357h0M500 1336h0M446 1344h0M558 1289h0M399 1348h0M817 1122h0M396 1342h0M637 1229h0M458 1273h0M594 1294h0M709 1234h0M369 1324h0M529 1343h0M646 1287h0M673 1269h0M658 1274h0M1039 888h0M349 1327h0M511 1313h0M851 1182h0M580 1294h0M787 1211h0M760 1241h0M315 1312h0M685 1277h0M459 1247h0M548 1226h0M285 1287h0M349 1321h0M285 1242h0M592 1320h0M300 1342h0M882 1078h0M294 1333h0M774 1253h0M665 1222h0M485 1344h0M279 1345h0M667 1254h0M592 1321h0M505 1325h0M1248 1175h0M396 1261h0M499 1336h0M719 1211h0M801 1177h0M589 1269h0M833 1186h0M817 1114h0M379 1311h0M658 1263h0M279 1360h0M675 1225h0M357 1286h0M667 1275h0M473 1337h0M1119 998h0M719 1185h0M300 1334h0M793 1250h0M821 1193h0M452 1298h0M520 1334h0M884 1162h0M763 1252h0M357 1307h0M433 1307h0M324 1341h0M651 1246h0M385 1351h0M547 1353h0M630 1190h0M644 1242h0M536 1304h0M451 1296h0M459 1285h0M500 1324h0M594 1287h0M709 1246h0M594 1342h0M485 1324h0M620 1266h0M283 1324h0M801 1163h0M500 1331h0M500 1322h0M641 1304h0M647 1244h0M774 1235h0M500 1327h0M882 1068h0M271 1353h0M507 1256h0M466 1335h0M682 1168h0M1327 731h0M558 1243h0M933 1210h0M533 1338h0M817 1216h0M489 1299h0M651 1267h0M647 1247h0M665 1297h0M856 1132h0M473 1321h0M300 1334h0M310 1336h0M385 1348h0M545 1243h0M882 1065h0M480 1283h0M476 1273h0M709 1250h0M685 1293h0M578 1329h0M548 1265h0M458 1282h0"/>
<path stroke="#2db27d" d="M324 1349h0M515 1282h0M518 1312h0M327 1348h0M431 1278h0M509 1265h0M837 1189h0M672 1205h0M830 1187h0M1044 1004h0M414 1303h0M811 1164h0M520 1303h0M829 1088h0M661 1312h0M584 1292h0M966 1041h0M486 1356h0M529 1314h0M451 1258h0M805 1170h0M511 1299h0M569 1122h0M523 1318h0M520 1312h0M521 1298h0M907 1199h0M707 1224h0M673 1247h0M731 1170h0M843 1186h0M589 1272h0M418 1294h0M626 1266h0M758 1265h0M767 1222h0M529 1355h0M517 1242h0M539 1289h0M561 1230h0M311 1294h0M533 1274h0M837 1153h0M294 1313h0M717 1241h0M346 1330h0M738 1219h0M556 1244h0M629 1281h0M644 1235h0M550 1272h0M521 1314h0M584 1299h0M752 1264h0M844 1194h0M670 1275h0M444 1275h0M672 1220h0M566 1212h0M688 1283h0M738 1215h0M313 1313h0M653 1254h0M656 1225h0M346 1325h0M405 1320h0M651 1241h0M607 1307h0M520 1200h0M898 1127h0M313 1324h0M397 1366h0M623 1196h0M545 1234h0M418 1290h0M767 1241h0M670 1289h0M832 1181h0M478 1320h0M693 1174h0M418 1315h0M385 1341h0M832 1173h0M550 1265h0M630 1171h0M773 1105h0M319 1180h0M1039 1095h0M524 1278h0M576 1046h0M521 1310h0M521 1308h0M584 1285h0M385 1324h0M515 1281h0M651 1222h0M521 1275h0M459 1238h0M607 1262h0M327 1340h0M523 1314h0M832 1184h0M688 1275h0M405 1307h0M617 1220h0M767 1233h0M689 1242h0M752 1273h0M884 1059h0M604 1317h0M580 1262h0M405 1320h0M632 1219h0M517 1220h0M513 1241h0M478 1275h0M451 1265h0M791 1178h0M1083 1044h0M651 1225h0M556 1241h0M346 1337h0M539 1286h0M832 1178h0M647 1231h0M584 1299h0M697 1277h0M670 1273h0M843 1143h0M596 1282h0M584 1275h0M791 1162h0M566 1227h0M713 1185h0M346 1345h0M848 1148h0M623 1210h0M832 1150h0M672 1200h0M752 1296h0M884 1055h0"/>
<path stroke="#440154" d="M326 1382h0M502 1308h0M602 1339h0M461 1353h0M769 1234h0M351 1356h0M635 1194h0M470 1354h0M554 1334h0M415 1365h0M659 1287h0M299 1370h0M285 1373h0M681 1283h0M504 1261h0M461 1361h0M494 1365h0M285 1360h0M554 1340h0M1039 1231h0M326 1382h0M349 1344h0M308 1365h0M633 1280h0M332 1371h0M478 1323h0M538 1288h0M359 1373h0M441 1301h0M458 1353h0M633 1266h0M711 1296h0M725 1303h0M285 1373h0M351 1369h0M464 1315h0M425 1382h0M355 1341h0M317 1323h0M441 1330h0M933 1182h0M441 1331h0M554 1340h0M833 1141h0M639 1309h0M441 1323h0M425 1370h0M659 1306h0M321 1350h0M878 1201h0M627 1313h0M412 1294h0M351 1374h0M681 1296h0M410 1385h0M447 1306h0M833 1146h0M639 1289h0M427 1352h0M602 1322h0M382 1354h0M285 1367h0M308 1370h0M334 1371h0M326 1371h0M635 1203h0M412 1312h0M321 1328h0M504 1259h0M722 1223h0M577 1327h0M444 1348h0M377 1381h0M636 1261h0M425 1362h0M427 1371h0M407 1358h0M585 1318h0M381 1338h0M317 1332h0M454 1177h0M367 1353h0M326 1369h0M554 1329h0M602 1342h0M351 1375h0M635 1171h0M332 1375h0M377 1356h0M633 1248h0M321 1343h0M864 1145h0M441 1321h0M476 1281h0M633 1272h0M438 1380h0M577 1350h0M441 1326h0M827 1167h0M317 1335h0M725 1236h0M494 1346h0M755 1246h0M548 1280h0M456 1348h0M585 1255h0M454 1315h0M659 1297h0M427 1350h0M444 1365h0M464 1272h0M285 1361h0M351 1372h0M554 1322h0M319 1346h0M827 1141h0M538 1306h0M602 1336h0M412 1338h0M554 1342h0M933 1134h0M412 1341h0M441 1336h0M933 1187h0M415 1362h0M326 1375h0M441 1313h0M361 1352h0M635 1209h0M681 1314h0M412 1288h0M636 1306h0M392 1334h0M1181 1162h0M681 1299h0M827 1202h0M478 1319h0M538 1260h0M478 1323h0M441 1306h0M725 1261h0M377 1361h0M367 1327h0M452 1277h0M764 1208h0M410 1374h0M659 1276h0M326 1380h0M933 1195h0M681 1300h0M275 1340h0M367 1350h0M415 1355h0M382 1356h0M722 1253h0M447 1316h0M470 1337h0M585 1253h0M361 1360h0M299 1369h0M441 1331h0M769 1180h0M446 1346h0M725 1238h0M615 1220h0M377 1371h0M361 1360h0M470 1349h0M456 1322h0M452 1343h0M461 1368h0M275 1343h0M452 1352h0M412 1348h0M476 1284h0M381 1320h0M326 1364h0M504 1261h0M769 1197h0M412 1339h0M659 1315h0M504 1279h0M285 1373h0M408 1360h0M559 1332h0M412 1300h0M334 1358h0M635 1169h0M722 1268h0M410 1370h0M807 1200h0M367 1336h0M764 1235h0M736 1258h0M769 1214h0M639 1304h0M577 1338h0M833 1135h0M381 1350h0M633 1239h0M585 1233h0M639 1318h0M438 1350h0M538 1315h0M326 1368h0M833 1127h0M425 1369h0M381 1344h0M412 1323h0M633 1248h0"/>
<path stroke="#d8e219" d="M561 1232h0M812 1154h0M800 1191h0M772 1176h0M1343 745h0M694 1226h0M896 994h0M512 1240h0M604 1322h0M754 1194h0M597 1229h0M570 1249h0M1230 919h0M747 1193h0M511 1159h0M568 1241h0M1648 322h0M1182 789h0M305 1317h0M694 1230h0M785 1116h0M772 1211h0M1235 779h0M805 1152h0M512 1247h0M597 1225h0M791 1185h0M397 1220h0M694 1208h0M1343 878h0M570 1266h0M747 1226h0M791 1146h0M1141 831h0M772 1200h0M857 1152h0M694 1213h0M568 1257h0M791 1182h0M1265 742h0M1119 977h0M754 1159h0M1119 935h0M431 1265h0M570 1256h0M568 1230h0M1343 756h0M698 1161h0M568 1243h0M561 1229h0M1343 878h0M568 1240h0M305 1322h0M604 1320h0M370 1316h0M617 1234h0M1182 842h0M1196 816h0M812 1215h0M405 1317h0M772 1215h0M729 1168h0M694 1218h0M754 1164h0M747 1176h0M772 1223h0M742 1233h0M497 1250h0M1231 943h0M575 1301h0M1248 828h0M800 1163h0M1158 955h0M747 1221h0M1235 728h0M604 1313h0M1235 640h0M1131 865h0M812 1202h0M812 1149h0M509 1261h0M570 1244h0M698 1149h0M694 1277h0M747 1209h0M568 1245h0M405 1327h0M465 1187h0M568 1230h0M568 1223h0M1182 974h0M313 1261h0M568 1249h0M570 1268h0M694 1259h0M747 1199h0M694 1251h0M568 1235h0M1326 712h0M1463 501h0M754 1182h0M747 1183h0M1326 698h0M364 1185h0M1464 714h0M747 1192h0M643 1243h0M857 1146h0M568 1252h0M747 1215h0M1265 753h0M1158 570h0M742 1242h0M509 1257h0M857 1144h0M1157 652h0M1248 868h0M570 1265h0M1119 856h0M1343 676h0M747 1155h0M1343 624h0M561 1223h0M1131 832h0M568 1230h0M561 1227h0M575 1289h0M791 1171h0M509 1285h0M805 1142h0M791 1147h0M305 1334h0M742 1219h0"/>
<path stroke="#40bd72" d="M767 1196h0M390 1374h0M385 1336h0M515 1287h0M405 1321h0M694 1291h0M523 1318h0M597 1227h0M414 1301h0M704 1278h0M688 1287h0M925 1120h0M369 1252h0M431 1272h0M705 1219h0M578 1241h0M607 1264h0M405 1328h0M512 1263h0M811 1171h0M405 1332h0M561 1238h0M743 1198h0M617 1252h0M389 1295h0M750 1227h0M604 1344h0M459 1249h0M617 1237h0M523 1332h0M521 1320h0M832 1170h0M580 1258h0M738 1216h0M513 1204h0M607 1270h0M517 1214h0M743 1142h0M731 1166h0M738 1209h0M545 1245h0M656 1219h0M566 1211h0M770 1174h0M617 1241h0M689 1217h0M832 1217h0M550 1277h0M623 1217h0M772 1211h0M517 1216h0M580 1297h0M735 1279h0M539 1305h0M474 1341h0M357 1273h0M632 1246h0M738 1235h0M604 1309h0M697 1211h0M821 1215h0M385 1330h0M693 1148h0M772 1214h0M604 1344h0M517 1227h0M405 1322h0M779 1157h0M523 1324h0M663 1266h0M630 1189h0M580 1242h0M385 1330h0M604 1344h0M772 1221h0M523 1317h0M643 1251h0M619 1282h0M705 1218h0M797 1118h0M791 1168h0M346 1339h0M672 1235h0M867 1189h0M720 1222h0M596 1294h0M596 1216h0M357 1292h0M717 1216h0M444 1304h0M697 1284h0M772 1213h0M431 1270h0M372 1333h0M489 1294h0M580 1260h0M515 1277h0M428 1334h0"/>
<path stroke="#75d054" d="M617 1269h0M661 1297h0M643 1211h0M738 1194h0M800 1169h0M486 1279h0M617 1240h0M313 1296h0M800 1188h0M405 1322h0M767 1206h0M698 1172h0M431 1263h0M533 1317h0M459 1248h0M630 1162h0M619 1272h0M729 1194h0M772 1205h0M720 1228h0M701 1237h0M653 1248h0M720 1218h0M597 1235h0M372 1361h0M520 1250h0M584 1291h0M346 1329h0M520 1172h0M689 1219h0M821 1195h0M800 1180h0M604 1310h0M867 1183h0M313 1328h0M713 1193h0M630 1171h0M630 1175h0M742 1224h0M561 1227h0M530 1236h0M517 1241h0M346 1331h0M512 1246h0M509 1271h0M843 1168h0M619 1280h0M738 1199h0M623 1204h0M509 1263h0M597 1221h0M405 1325h0M704 1285h0M431 1278h0M512 1253h0M772 1213h0M369 1203h0M431 1272h0M651 1229h0M811 1172h0M729 1172h0M604 1344h0"/>
<path stroke="#b5de2b" d="M772 1205h0M800 1154h0M575 1307h0M575 1301h0M370 1334h0M701 1225h0M405 1311h0M832 1155h0M800 1157h0M512 1236h0M512 1261h0M509 1270h0M632 1189h0M512 1248h0M372 1345h0M530 1245h0M779 1168h0M698 1154h0M735 1291h0M1182 840h0M791 1197h0M772 1192h0M385 1218h0M1119 921h0M742 1231h0M509 1267h0M800 1181h0M512 1285h0M497 1265h0M742 1221h0M568 1241h0M431 1274h0M530 1234h0M745 1198h0M743 1173h0M561 1228h0M742 1229h0M1326 700h0M864 1115h0M694 1271h0M705 1167h0M512 1236h0M509 1257h0M561 1246h0M742 1225h0M747 1200h0M742 1234h0M767 1182h0"/>
<path stroke="#46337f" d="M435 1375h0M542 1313h0M336 1369h0M285 1362h0M366 1340h0M551 1320h0M387 1348h0M319 1339h0M554 1311h0M311 1382h0M468 1343h0M288 1350h0M686 1236h0M778 1234h0M323 1371h0M536 1353h0M352 1371h0M774 1278h0M551 1335h0M414 1333h0M781 1226h0M323 1383h0M285 1359h0M739 1236h0M725 1296h0M433 1354h0M408 1350h0M563 1312h0M636 1240h0M609 1267h0M364 1348h0M577 1316h0M283 1350h0M341 1326h0M591 1319h0M441 1332h0M739 1244h0M725 1258h0M420 1343h0M390 1380h0M323 1370h0M364 1365h0M387 1345h0M532 1332h0M476 1273h0M359 1342h0M327 1360h0M627 1316h0M495 1313h0M551 1363h0M655 1317h0M559 1320h0M476 1280h0M532 1333h0M435 1350h0M392 1335h0M321 1330h0M427 1356h0M564 1299h0M319 1354h0M367 1335h0M433 1347h0M620 1319h0M585 1266h0M551 1317h0M393 1338h0M585 1265h0M473 1363h0M359 1338h0M382 1357h0M470 1363h0M404 1335h0M582 1307h0M495 1321h0M271 1336h0M627 1296h0M582 1343h0M342 1345h0M480 1290h0M511 1288h0M542 1359h0M630 1180h0M321 1318h0M655 1316h0M420 1344h0M542 1313h0M559 1310h0M655 1280h0M585 1230h0M532 1351h0M542 1326h0M283 1350h0M438 1323h0M288 1363h0M317 1322h0M352 1354h0M288 1360h0M433 1357h0M801 1196h0M491 1332h0M315 1355h0M424 1338h0M458 1325h0M424 1342h0M532 1325h0M342 1352h0M275 1307h0M347 1359h0M532 1334h0M279 1361h0M668 1299h0M504 1255h0M288 1357h0M295 1364h0M548 1214h0M554 1291h0M446 1356h0M319 1338h0M491 1346h0M400 1366h0M424 1342h0M438 1304h0M319 1353h0M667 1249h0M425 1332h0M641 1301h0M726 1272h0M449 1367h0M494 1343h0M655 1288h0M778 1243h0M393 1356h0M499 1339h0M572 1316h0M551 1320h0M491 1354h0M774 1286h0M336 1362h0M393 1327h0M424 1348h0M382 1348h0M352 1352h0M627 1316h0M781 1229h0"/>
<path stroke="#482475" d="M384 1348h0M435 1360h0M421 1350h0M337 1371h0M700 1276h0M551 1332h0M427 1362h0M384 1351h0M349 1354h0M627 1316h0M408 1365h0M585 1277h0M361 1338h0M601 1239h0M730 1275h0M393 1365h0M435 1353h0M424 1355h0M468 1362h0M730 1285h0M444 1323h0M393 1360h0M601 1244h0M438 1315h0M402 1373h0M361 1341h0M359 1346h0M700 1267h0M275 1338h0M559 1349h0M407 1335h0M548 1268h0M421 1350h0M359 1340h0M601 1233h0M317 1331h0M807 1235h0M425 1332h0M319 1351h0M375 1375h0M393 1349h0M319 1331h0M323 1374h0M567 1338h0M408 1322h0M504 1258h0M725 1263h0M559 1323h0M494 1357h0M402 1358h0M337 1358h0M367 1321h0M639 1320h0M364 1345h0M470 1320h0M534 1327h0M781 1245h0M375 1377h0M495 1355h0M667 1258h0M283 1361h0M627 1298h0M551 1347h0M637 1339h0M393 1362h0M435 1359h0M355 1370h0M275 1354h0M315 1340h0M396 1349h0M835 1193h0M796 1178h0M444 1331h0M362 1368h0M458 1328h0M424 1347h0M700 1283h0M726 1264h0M446 1351h0M458 1355h0M659 1264h0M639 1298h0M404 1350h0M585 1249h0M551 1352h0M548 1272h0M470 1363h0M476 1293h0M504 1260h0M553 1337h0M283 1358h0M362 1342h0M362 1341h0M464 1270h0M449 1367h0M399 1358h0M750 1257h0M439 1341h0M476 1283h0M307 1360h0M559 1349h0M382 1348h0M675 1238h0M347 1376h0M307 1372h0M283 1357h0M553 1337h0M559 1324h0M585 1245h0M659 1253h0M319 1318h0M807 1223h0M461 1345h0M484 1313h0M476 1288h0M404 1348h0M377 1359h0M444 1325h0M319 1309h0M659 1266h0M534 1323h0M476 1297h0M311 1368h0M585 1263h0M627 1316h0M495 1319h0M639 1316h0M283 1364h0M476 1295h0M711 1285h0M330 1351h0M402 1359h0M572 1347h0M572 1353h0M387 1360h0M464 1266h0M476 1280h0M355 1368h0M275 1339h0M633 1265h0M336 1362h0M362 1360h0M362 1343h0M601 1257h0M359 1354h0M553 1317h0M446 1345h0M722 1225h0M449 1358h0M307 1364h0"/>
<path stroke="#482475" d="M461 1356h0M567 1325h0M421 1351h0M582 1341h0M609 1255h0M317 1318h0M408 1342h0M476 1283h0M494 1331h0M366 1370h0M298 1367h0M397 1376h0M534 1325h0M636 1269h0M553 1345h0M347 1354h0M289 1352h0M725 1249h0M559 1320h0M359 1354h0M330 1373h0M559 1328h0M336 1365h0M591 1341h0M458 1342h0M542 1354h0M355 1359h0M494 1335h0M355 1346h0M494 1346h0M542 1333h0M281 1344h0M349 1344h0M321 1326h0M367 1334h0M435 1367h0M362 1363h0M352 1360h0M349 1329h0M362 1339h0M384 1339h0M452 1288h0M542 1357h0M352 1374h0M551 1363h0M778 1272h0M548 1258h0M542 1343h0M441 1334h0M470 1337h0M355 1371h0M567 1325h0M739 1249h0M444 1340h0M468 1364h0M725 1261h0M461 1336h0M494 1342h0M355 1338h0M349 1349h0M387 1379h0M504 1248h0M438 1292h0M352 1378h0M289 1348h0M382 1336h0M572 1347h0M341 1321h0M351 1339h0M337 1367h0M601 1267h0M591 1333h0M620 1305h0M785 1168h0M387 1374h0M393 1344h0M551 1346h0M362 1365h0M495 1338h0M375 1355h0M402 1363h0M382 1350h0M582 1317h0M532 1357h0M387 1376h0M585 1250h0M317 1327h0M468 1362h0M639 1291h0M456 1340h0M275 1344h0M567 1333h0M675 1252h0M275 1329h0M495 1346h0M551 1358h0M461 1334h0M774 1265h0M494 1328h0M275 1339h0M298 1351h0M289 1342h0M577 1344h0M564 1322h0M722 1205h0M319 1329h0M420 1377h0M355 1364h0M317 1326h0M310 1361h0M659 1281h0M415 1355h0M408 1336h0M342 1340h0M470 1340h0M548 1268h0M582 1337h0M337 1380h0M279 1363h0M421 1352h0M637 1324h0M476 1278h0M601 1242h0M402 1351h0M452 1278h0M355 1361h0M420 1381h0M577 1337h0M433 1372h0M577 1321h0M582 1317h0M655 1316h0M572 1347h0M542 1340h0M382 1346h0M366 1364h0M361 1343h0M456 1320h0M502 1294h0M387 1354h0M470 1326h0M330 1381h0M319 1334h0M639 1310h0M494 1343h0M275 1324h0M470 1354h0M357 1353h0M310 1375h0M281 1345h0M364 1345h0M725 1211h0M402 1359h0M283 1364h0M317 1344h0M416 1370h0M553 1345h0M726 1258h0M553 1347h0M421 1365h0M801 1183h0"/>
<path stroke="#440154" d="M1181 1151h0M407 1343h0M317 1329h0M609 1285h0M470 1350h0M639 1311h0M736 1284h0M367 1333h0M454 1338h0M377 1357h0M412 1311h0M636 1262h0M367 1352h0M441 1341h0M827 1225h0M726 1307h0M585 1265h0M427 1358h0M412 1334h0M285 1373h0M602 1318h0M722 1274h0M494 1347h0M464 1270h0M864 1138h0M351 1366h0M725 1243h0M377 1357h0M408 1370h0M326 1361h0M585 1278h0M285 1370h0M367 1347h0M438 1380h0M321 1345h0M454 1346h0M359 1364h0M769 1176h0M441 1338h0M470 1354h0M281 1361h0M332 1368h0M407 1371h0M275 1335h0M427 1351h0M285 1365h0M602 1307h0M315 1355h0M577 1352h0M377 1362h0M361 1360h0M299 1363h0M801 1181h0M377 1377h0M478 1322h0M635 1206h0M334 1367h0M602 1340h0M351 1362h0M407 1339h0M681 1307h0M439 1353h0M470 1330h0M332 1366h0M495 1357h0M321 1333h0M554 1336h0M635 1173h0M554 1330h0M726 1266h0M769 1178h0M554 1325h0M381 1325h0M722 1283h0M441 1328h0M585 1262h0M504 1299h0M726 1300h0M602 1308h0M769 1239h0M351 1380h0M289 1353h0M681 1287h0M476 1272h0M494 1352h0M736 1252h0M447 1329h0M456 1343h0M382 1359h0M833 1133h0M367 1352h0M659 1309h0M321 1348h0M444 1366h0M585 1315h0M807 1224h0M585 1274h0M725 1301h0M769 1220h0M538 1294h0M425 1381h0M447 1313h0M326 1372h0M317 1327h0M827 1198h0M534 1351h0M659 1284h0M764 1200h0M317 1342h0M470 1347h0M438 1315h0M438 1343h0M367 1364h0M495 1365h0M285 1354h0M408 1377h0M563 1344h0M461 1346h0M351 1361h0M726 1297h0M476 1274h0M342 1366h0M722 1257h0M504 1282h0M878 1192h0M554 1332h0M736 1249h0M599 1281h0M725 1249h0M424 1358h0M452 1324h0M441 1319h0M407 1360h0M639 1304h0M725 1249h0M725 1254h0M454 1338h0M636 1284h0M387 1370h0M599 1194h0M615 1219h0M420 1365h0M351 1356h0M602 1317h0M461 1361h0M681 1290h0M591 1352h0M494 1359h0M285 1356h0M410 1380h0M317 1330h0M319 1338h0M367 1360h0M438 1328h0M769 1204h0M659 1318h0M633 1257h0M681 1287h0M478 1307h0M408 1364h0M364 1362h0M454 1330h0M599 1280h0M326 1370h0M833 1138h0M736 1246h0M351 1352h0M412 1311h0M722 1238h0M636 1257h0M438 1317h0M384 1347h0M495 1366h0M635 1190h0M563 1347h0M355 1363h0M722 1263h0M412 1316h0M635 1164h0M470 1364h0M681 1304h0M308 1379h0M410 1372h0M289 1360h0M321 1345h0M585 1301h0M478 1313h0M461 1357h0M410 1380h0M367 1375h0M285 1360h0M415 1350h0M563 1340h0M764 1230h0M585 1296h0M317 1337h0M615 1208h0M415 1359h0M725 1256h0M769 1196h0M659 1312h0M285 1358h0"/>
<path stroke="#1e9b8a" d="M750 1231h0M670 1259h0M541 1288h0M758 1274h0M689 1250h0M489 1297h0M580 1269h0M513 1228h0M617 1237h0M752 1272h0M530 1294h0M294 1329h0M811 1214h0M580 1285h0M486 1347h0M649 1304h0M705 1076h0M518 1329h0M444 1319h0M545 1246h0M428 1325h0M697 1262h0M428 1316h0M511 1288h0M613 1255h0M709 1229h0M550 1270h0M604 1344h0M545 1229h0M731 1180h0M541 1312h0M499 1328h0M556 1241h0M327 1351h0M379 1275h0M726 1240h0M556 1243h0M661 1306h0M428 1324h0M578 1265h0M344 1304h0M693 1182h0M589 1226h0M704 1312h0M344 1336h0M589 1218h0M486 1358h0M677 1273h0M617 1312h0M752 1246h0M491 1297h0M717 1209h0M313 1310h0M397 1380h0M760 1238h0M675 1221h0M327 1343h0M607 1304h0M691 1255h0M613 1235h0M649 1282h0M596 1297h0M530 1330h0M735 1295h0M729 1247h0M300 1326h0M898 1154h0M758 1228h0M474 1359h0M550 1267h0M693 1216h0M563 1194h0M584 1292h0M758 1270h0M451 1327h0M451 1340h0M686 1187h0M661 1290h0M632 1253h0M843 1169h0M584 1302h0M643 1263h0M313 1331h0M271 1300h0M673 1228h0M704 1297h0M715 1228h0M444 1306h0M294 1318h0M414 1294h0M796 1142h0M709 1161h0M513 1225h0M613 1270h0M526 1274h0M607 1286h0M327 1359h0M658 1307h0M651 1256h0M623 1226h0M596 1276h0M644 1233h0M344 1315h0M341 1320h0M697 1231h0M805 1153h0M530 1275h0M673 1238h0M589 1241h0M521 1305h0M480 1275h0M653 1233h0M385 1328h0M617 1321h0M649 1264h0M735 1287h0M505 1240h0M520 1296h0M630 1189h0M843 1148h0M294 1307h0M545 1233h0M545 1248h0M526 1274h0M271 1346h0M473 1274h0M523 1326h0M596 1283h0M385 1341h0M843 1160h0M670 1289h0M752 1259h0M346 1332h0M707 1245h0M451 1258h0M670 1292h0M750 1240h0M529 1327h0M584 1271h0M691 1272h0M349 1310h0M697 1257h0M589 1219h0M644 1229h0M672 1232h0M607 1298h0M385 1328h0M327 1344h0"/>
<path stroke="#75d054" d="M791 1208h0M607 1291h0M791 1169h0M405 1318h0M772 1191h0M738 1230h0M619 1282h0M530 1266h0M405 1306h0M346 1327h0M530 1235h0M641 1235h0M701 1253h0M515 1261h0M512 1276h0M431 1277h0M370 1299h0M405 1299h0M729 1175h0M568 1247h0M697 1244h0M653 1267h0M738 1233h0M772 1197h0M643 1227h0M451 1254h0M517 1242h0M604 1344h0M370 1323h0M705 1155h0M643 1250h0M515 1262h0M821 1163h0M632 1214h0M619 1291h0M523 1334h0M561 1218h0M630 1160h0M720 1233h0M515 1284h0M521 1294h0M867 1191h0M653 1218h0M743 1213h0M539 1271h0M663 1275h0M509 1286h0M617 1280h0M566 1239h0M867 1179h0M738 1195h0M651 1224h0M738 1200h0M701 1238h0M735 1269h0M632 1193h0M431 1285h0M397 1253h0M821 1174h0M800 1196h0M617 1262h0M474 1355h0M867 1185h0M486 1265h0"/>
<path stroke="#46337f" d="M464 1312h0M438 1295h0M446 1336h0M416 1341h0M402 1350h0M452 1314h0M452 1311h0M532 1330h0M367 1299h0M548 1253h0M730 1268h0M393 1358h0M375 1354h0M658 1303h0M585 1285h0M384 1336h0M722 1222h0M416 1359h0M416 1366h0M399 1356h0M404 1350h0M781 1255h0M349 1350h0M444 1320h0M559 1308h0M542 1349h0M564 1320h0M700 1272h0M725 1264h0M317 1332h0M536 1344h0M408 1322h0M321 1327h0M801 1176h0M711 1263h0M636 1248h0M801 1172h0M379 1307h0M393 1350h0M585 1236h0M315 1347h0M402 1361h0M500 1299h0M470 1342h0M511 1306h0M781 1235h0M283 1359h0M468 1342h0M461 1324h0M317 1329h0M476 1276h0M298 1347h0M408 1330h0M778 1247h0M572 1341h0M774 1286h0M435 1366h0M577 1304h0M700 1263h0M774 1286h0M421 1354h0M559 1309h0M726 1269h0M807 1239h0M433 1351h0M778 1265h0M778 1283h0M366 1365h0M572 1350h0M591 1337h0M601 1275h0M730 1285h0M408 1301h0M461 1325h0M352 1364h0M726 1235h0M387 1378h0M476 1276h0M686 1271h0M449 1358h0M700 1259h0M366 1345h0M848 1179h0M462 1342h0M554 1301h0M420 1370h0M303 1362h0M636 1279h0M427 1347h0M637 1334h0M359 1348h0M310 1349h0M470 1330h0M416 1371h0M682 1213h0M502 1301h0M336 1369h0M476 1289h0M355 1350h0M319 1336h0M433 1359h0M494 1325h0M609 1266h0M801 1198h0M534 1346h0M359 1346h0M323 1372h0M433 1364h0M366 1361h0M303 1376h0M627 1293h0M435 1354h0M532 1352h0M609 1275h0M352 1358h0M321 1313h0M725 1281h0M311 1368h0M548 1258h0M292 1367h0M452 1302h0M551 1324h0M323 1377h0M311 1376h0"/>
<path stroke="#95d840" d="M694 1271h0M643 1237h0M575 1296h0M566 1243h0M431 1268h0M619 1264h0M497 1288h0M828 1129h0M346 1337h0M1067 990h0M698 1155h0M389 1294h0M772 1200h0M753 1137h0M701 1247h0M770 1136h0M566 1261h0M800 1196h0M1074 867h0M821 1156h0M694 1248h0M653 1215h0M747 1225h0M704 1282h0M431 1269h0M772 1216h0M742 1244h0M619 1283h0M515 1287h0M705 1163h0M864 1109h0M812 1146h0M983 1107h0M811 1189h0M1397 771h0M617 1274h0M596 1228h0M742 1218h0M517 1242h0M791 1161h0M864 1127h0M344 1300h0M701 1243h0M509 1268h0M623 1204h0M747 1201h0M630 1144h0M742 1243h0M488 1076h0M907 1218h0M604 1312h0M800 1167h0M630 1142h0M512 1251h0M791 1161h0M832 1175h0M530 1271h0M568 1227h0M800 1185h0M753 1130h0M743 1146h0M566 1216h0M743 1159h0M370 1291h0M512 1245h0M938 1080h0M767 1185h0M812 1214h0M832 1206h0M864 1129h0M805 1149h0M372 1349h0"/>
<path stroke="#471365" d="M392 1343h0M764 1236h0M933 1185h0M591 1352h0M381 1327h0M330 1380h0M639 1317h0M635 1211h0M458 1363h0M337 1373h0M827 1159h0M478 1311h0M359 1353h0M441 1341h0M275 1356h0M408 1373h0M577 1336h0M591 1318h0M425 1354h0M635 1186h0M495 1361h0M639 1284h0M281 1358h0M495 1364h0M326 1368h0M725 1284h0M635 1184h0M551 1351h0M563 1356h0M461 1344h0M615 1231h0M330 1358h0M538 1294h0M553 1336h0M458 1351h0M334 1374h0M408 1365h0M458 1364h0M415 1353h0M478 1322h0M476 1277h0M289 1365h0M375 1358h0M681 1284h0M444 1358h0M415 1352h0M447 1312h0M458 1345h0M332 1344h0M439 1339h0M599 1229h0M390 1381h0M425 1364h0M563 1320h0M542 1360h0M554 1313h0M438 1326h0M827 1164h0M458 1355h0M639 1284h0M615 1222h0M639 1285h0M392 1335h0M407 1343h0M410 1370h0M326 1382h0M764 1231h0M412 1319h0M454 1329h0M478 1322h0M275 1341h0M538 1242h0M412 1291h0M454 1142h0M393 1354h0M538 1295h0M390 1368h0M476 1293h0M326 1369h0M387 1381h0M454 1340h0M591 1318h0M402 1375h0M326 1367h0M381 1310h0M461 1340h0M321 1345h0M415 1351h0M542 1347h0M591 1326h0M599 1255h0M416 1363h0M381 1320h0M408 1343h0M711 1274h0M381 1357h0M415 1371h0M659 1288h0M382 1367h0M764 1243h0M387 1380h0M755 1262h0M726 1303h0M355 1352h0M347 1373h0M633 1262h0M444 1343h0M421 1363h0M538 1325h0M402 1381h0M495 1339h0M764 1189h0M326 1372h0M827 1153h0M438 1318h0M275 1330h0M308 1375h0M878 1187h0M478 1326h0M577 1333h0M563 1327h0M337 1373h0M424 1364h0M470 1361h0M725 1238h0M563 1342h0M476 1293h0M412 1345h0M425 1343h0M774 1264h0M478 1325h0M585 1241h0M288 1364h0M478 1320h0M454 1314h0M444 1341h0M384 1371h0M538 1362h0M381 1326h0M864 1153h0M755 1224h0M470 1334h0M464 1279h0M730 1265h0M337 1348h0M375 1377h0M478 1311h0M764 1211h0M711 1294h0M478 1314h0M726 1307h0M736 1251h0M725 1245h0M326 1379h0M807 1236h0M470 1343h0M377 1338h0M563 1319h0M725 1257h0M412 1295h0M382 1339h0M439 1363h0M275 1349h0M285 1365h0M659 1306h0M504 1280h0M404 1330h0M659 1271h0M384 1353h0M554 1324h0M827 1213h0M334 1374h0M736 1251h0M736 1264h0M456 1320h0M730 1261h0M602 1301h0M538 1271h0M361 1349h0M659 1289h0M476 1296h0M359 1348h0M495 1363h0M538 1296h0M326 1382h0M681 1291h0M764 1207h0M494 1326h0M289 1349h0M330 1374h0M633 1289h0M454 1341h0M635 1188h0M730 1297h0M553 1349h0M454 1339h0M326 1382h0M347 1376h0"/>
<path stroke="#218f8d" d="M529 1315h0M294 1328h0M796 1171h0M760 1261h0M397 1383h0M397 1381h0M428 1288h0M760 1266h0M843 1206h0M673 1272h0M556 1272h0M313 1348h0M511 1293h0M418 1302h0M529 1335h0M385 1335h0M315 1317h0M578 1246h0M848 1137h0M451 1327h0M474 1368h0M541 1312h0M294 1301h0M545 1243h0M607 1303h0M499 1329h0M530 1286h0M518 1335h0M719 1145h0M760 1258h0M455 1214h0M511 1288h0M752 1252h0M571 1184h0M529 1332h0M612 1265h0M451 1267h0M934 1135h0M385 1330h0M750 1243h0M344 1310h0M677 1261h0M589 1277h0M379 1269h0M658 1303h0M497 1307h0M641 1281h0M750 1243h0M521 1298h0M750 1240h0M491 1307h0M691 1263h0M691 1267h0M271 1332h0M414 1310h0M896 1023h0M578 1296h0M300 1344h0M589 1283h0M668 1221h0M545 1229h0M1067 1237h0M558 1235h0M271 1325h0M837 1143h0M843 1187h0M428 1341h0M529 1353h0M529 1333h0M673 1192h0M405 1328h0M832 1198h0M604 1344h0M428 1333h0M838 1197h0M500 1317h0M796 1173h0M796 1179h0M729 1231h0M513 1258h0M589 1240h0M673 1247h0M390 1368h0M750 1245h0M524 1299h0M661 1284h0M491 1279h0M589 1215h0M500 1318h0M644 1201h0M715 1204h0M707 1229h0M589 1235h0M444 1298h0M474 1368h0M672 1219h0M428 1320h0M511 1292h0M294 1331h0M372 1136h0M911 1102h0M410 1139h0M843 1210h0M933 1146h0M607 1301h0M533 1320h0M513 1236h0M750 1262h0M397 1372h0M396 1322h0M811 1234h0M517 1289h0M451 1351h0M521 1297h0M774 1226h0M444 1296h0M940 971h0M545 1229h0M349 1336h0M689 1306h0M623 1207h0M513 1255h0M473 1274h0M715 1228h0M558 1218h0M511 1293h0M511 1313h0M524 1289h0M473 1269h0M596 1280h0M324 1326h0M357 1330h0M556 1233h0M843 1162h0M843 1188h0M709 1165h0M480 1269h0M677 1306h0M681 1064h0M1005 1269h0M596 1303h0M327 1379h0M605 1231h0M541 1333h0M1648 373h0M854 1061h0M677 1272h0M898 1146h0M556 1266h0M668 1222h0M529 1366h0M661 1298h0M295 1322h0M482 1183h0M545 1246h0M511 1292h0M661 1294h0M578 1295h0M327 1364h0M288 1209h0M750 1268h0M665 1259h0M390 1358h0"/>
<path stroke="#414287" d="M536 1357h0M424 1225h0M658 1278h0M324 1350h0M303 1365h0M587 1316h0M292 1361h0M726 1263h0M271 1358h0M452 1280h0M399 1335h0M321 1310h0M414 1335h0M400 1367h0M364 1342h0M630 1176h0M502 1304h0M572 1349h0M933 1168h0M303 1356h0M622 1313h0M548 1232h0M339 1359h0M627 1289h0M577 1315h0M966 1053h0M558 1244h0M349 1350h0M319 1340h0M400 1364h0M889 1147h0M298 1351h0M1463 174h0M896 1028h0M283 1337h0M400 1375h0M611 1175h0M881 1128h0M667 1255h0M416 1194h0M317 1331h0M646 1317h0M324 1338h0M574 1304h0M884 1105h0M601 1247h0M336 1354h0M452 1318h0M854 1155h0M468 1334h0M491 1346h0M468 1335h0M726 1262h0M366 1357h0M656 1267h0M352 1356h0M854 1135h0M452 1316h0M633 1267h0M336 1339h0M341 1335h0M341 1317h0M366 1351h0M404 1323h0M303 1367h0M298 1341h0M655 1307h0M532 1333h0M466 1324h0M480 1296h0M502 1304h0M456 1281h0M641 1299h0M572 1348h0M319 1315h0M452 1309h0M397 1374h0M888 1182h0M324 1385h0M433 1317h0M470 1320h0M396 1329h0M620 1299h0M433 1318h0M536 1326h0M342 1369h0M300 1344h0M336 1358h0M609 1290h0M548 1252h0M355 1353h0M942 1089h0M554 1293h0M591 1352h0M317 1333h0M379 1319h0M722 1200h0M778 1238h0M404 1343h0M336 1370h0M548 1282h0M774 1270h0M601 1238h0M574 1334h0M774 1281h0M564 1285h0M685 1287h0M551 1301h0M438 1307h0M476 1272h0M591 1327h0M781 1224h0M542 1303h0M466 1322h0M1021 974h0M536 1344h0M435 1329h0M637 1339h0M275 1331h0M781 1218h0M390 1366h0M513 1241h0M609 1271h0M726 1281h0M601 1231h0M855 1170h0M461 1312h0M796 1183h0M633 1271h0M366 1350h0M532 1330h0M725 1215h0M667 1264h0M468 1342h0M620 1275h0M355 1343h0M446 1350h0M435 1345h0M778 1277h0M366 1353h0M551 1309h0M594 1349h0M824 1210h0M366 1351h0M596 1338h0M686 1236h0M781 1252h0M532 1345h0M785 1155h0M355 1324h0M404 1341h0M572 1306h0M532 1334h0M382 1345h0M324 1342h0M323 1358h0M303 1358h0M592 1329h0M416 1340h0"/>
<path stroke="#21a685" d="M584 1301h0M697 1263h0M517 1243h0M717 1230h0M431 1283h0M327 1362h0M715 1206h0M530 1291h0M626 1227h0M344 1301h0M511 1293h0M313 1341h0M797 1128h0M346 1333h0M521 1317h0M704 1299h0M617 1311h0M389 1294h0M644 1204h0M556 1257h0M497 1314h0M584 1300h0M520 1329h0M604 1299h0M518 1305h0M344 1321h0M521 1294h0M385 1328h0M497 1316h0M704 1303h0M688 1277h0M451 1293h0M750 1233h0M517 1260h0M811 1193h0M719 1214h0M584 1310h0M556 1238h0M580 1267h0M397 1376h0M346 1325h0M344 1314h0M405 1341h0M517 1237h0M670 1270h0M717 1253h0M580 1263h0M466 1326h0M313 1311h0M521 1273h0M626 1273h0M790 1178h0M589 1246h0M715 1225h0M451 1330h0M428 1321h0M589 1221h0M697 1220h0M693 1210h0M668 1293h0M515 1250h0M623 1230h0M545 1221h0M513 1211h0M580 1245h0M524 1277h0M529 1346h0M785 1152h0M605 1229h0M327 1341h0M653 1246h0M770 1185h0M607 1304h0M752 1281h0M389 1296h0M653 1286h0M523 1339h0M693 1219h0M584 1286h0M647 1255h0M294 1325h0M705 1175h0M752 1266h0M596 1235h0M693 1219h0M385 1346h0M641 1270h0M704 1303h0M313 1309h0M707 1222h0M617 1300h0M796 1148h0M584 1288h0M647 1228h0M473 1260h0M617 1287h0M682 1170h0M482 1274h0M604 1327h0M486 1369h0M843 1187h0M670 1294h0M707 1220h0M607 1292h0M294 1310h0M520 1347h0M580 1254h0M505 1260h0M697 1276h0M545 1237h0M521 1278h0M515 1283h0M580 1269h0M486 1350h0M647 1227h0M626 1226h0M556 1273h0M752 1247h0M653 1232h0M767 1223h0M617 1334h0M661 1326h0M605 1233h0M517 1215h0M405 1329h0M520 1317h0M709 1150h0M811 1197h0M752 1286h0M691 1249h0M673 1200h0"/>
<path stroke="#58c765" d="M848 1163h0M566 1214h0M580 1256h0M800 1188h0M738 1226h0M533 1282h0M617 1234h0M983 1121h0M752 1272h0M623 1231h0M1005 1003h0M709 1152h0M509 1268h0M661 1307h0M693 1181h0M779 1131h0M541 1295h0M517 1252h0M580 1263h0M705 1157h0M520 1305h0M428 1294h0M1067 1044h0M491 1302h0M523 1332h0M431 1284h0M735 1295h0M632 1224h0M824 1146h0M604 1337h0M561 1250h0M745 1223h0M821 1095h0M693 1189h0M701 1255h0M341 1329h0M641 1255h0M653 1255h0M517 1238h0M705 1144h0M418 1298h0M568 1231h0M515 1276h0M541 1269h0M735 1291h0M561 1225h0M643 1257h0M520 1291h0M1009 1059h0M604 1330h0M556 1234h0M561 1244h0M580 1288h0M486 1337h0M313 1332h0M651 1228h0M738 1183h0M623 1194h0M843 1149h0M630 1179h0M357 1280h0M1039 862h0M811 1168h0M512 1238h0M575 1310h0M580 1281h0M644 1179h0M623 1196h0M346 1335h0M397 1270h0M580 1299h0M561 1233h0M630 1173h0M405 1340h0M720 1215h0M811 1192h0M344 1316h0M530 1310h0M968 1049h0M509 1271h0M357 1274h0M497 1264h0M313 1317h0M521 1282h0M800 1206h0M617 1241h0M630 1165h0M843 1156h0M530 1279h0M517 1218h0M1005 1238h0M1018 1004h0M698 1167h0M482 1264h0M832 1160h0M530 1236h0M643 1271h0M607 1249h0M1248 656h0"/>
<path stroke="#2db27d" d="M327 1364h0M592 1204h0M357 1280h0M517 1250h0M497 1303h0M797 1126h0M530 1236h0M623 1198h0M526 1266h0M672 1206h0M523 1329h0M520 1312h0M584 1271h0M405 1314h0M524 1285h0M517 1226h0M578 1237h0M673 1242h0M428 1297h0M651 1212h0M772 1214h0M597 1221h0M972 1095h0M767 1208h0M688 1297h0M661 1307h0M623 1257h0M738 1208h0M697 1227h0M693 1209h0M523 1330h0M346 1327h0M529 1316h0M584 1282h0M539 1257h0M821 1224h0M596 1282h0M867 1207h0M517 1220h0M486 1312h0M584 1295h0M580 1253h0M682 1186h0M589 1261h0M713 1201h0M580 1256h0M523 1325h0M1327 747h0M698 1177h0M397 1351h0M411 1091h0M704 1312h0M529 1351h0M693 1179h0M523 1327h0M705 1214h0M520 1298h0M688 1297h0M713 1218h0M651 1245h0M833 1158h0M745 1216h0M524 1275h0M530 1284h0M385 1344h0M644 1171h0M597 1217h0M344 1295h0M1039 824h0M672 1199h0M517 1206h0M405 1315h0M541 1283h0M715 1267h0M597 1230h0M670 1275h0M767 1230h0M689 1290h0M797 1116h0M630 1169h0M489 1271h0M513 1219h0M688 1286h0M617 1293h0M697 1230h0M738 1194h0M629 1244h0M1077 1045h0M604 1314h0M750 1244h0M603 922h0M882 1076h0M767 1211h0M451 1309h0M517 1226h0M689 1278h0M688 1281h0M556 1236h0M632 1222h0M313 1324h0M729 1196h0M523 1331h0M418 1293h0M647 1254h0M578 1244h0M758 1221h0M431 1280h0M513 1241h0M1016 1028h0M811 1189h0M752 1291h0M673 1215h0M966 1094h0M823 1121h0M428 1287h0M797 1134h0M688 1272h0M832 1142h0M524 1300h0M518 1289h0M428 1335h0M632 1210h0M584 1294h0M607 1287h0M697 1282h0M706 1121h0M720 1230h0M796 1179h0M607 1299h0M767 1247h0M530 1323h0"/>
<path stroke="#26828e" d="M774 1286h0M357 1274h0M587 1326h0M651 1244h0M672 1215h0M545 1226h0M673 1205h0M397 1364h0M315 1300h0M294 1326h0M459 1273h0M390 1340h0M300 1325h0M390 1369h0M670 1277h0M271 1333h0M513 1240h0M473 1272h0M517 1274h0M547 1360h0M763 1236h0M594 1349h0M750 1260h0M790 1201h0M556 1288h0M414 1301h0M688 1278h0M607 1310h0M686 1205h0M750 1225h0M665 1230h0M619 1256h0M524 1303h0M691 1269h0M344 1308h0M279 1365h0M523 1326h0M379 1282h0M607 1330h0M547 1331h0M739 1249h0M709 1223h0M719 1150h0M294 1308h0M673 1284h0M705 1083h0M584 1277h0M480 1281h0M594 1320h0M489 1289h0M459 1269h0M451 1332h0M580 1270h0M446 1334h0M558 1235h0M524 1310h0M346 1313h0M390 1364h0M760 1255h0M520 1335h0M679 1223h0M717 1230h0M541 1348h0M661 1320h0M428 1332h0M715 1217h0M691 1266h0M677 1282h0M668 1295h0M760 1252h0M686 1223h0M466 1335h0M607 1281h0M709 1175h0M545 1242h0M524 1293h0M649 1298h0M607 1281h0M518 1329h0M672 1253h0M677 1274h0M486 1306h0M357 1298h0M558 1228h0M717 1242h0M649 1311h0M315 1306h0M511 1288h0M587 1271h0M693 1210h0M653 1252h0M649 1310h0M709 1153h0M545 1239h0M357 1318h0M705 1074h0M853 1122h0M451 1273h0M620 1275h0M489 1290h0M760 1256h0M369 1310h0M647 1232h0M594 1315h0M704 1289h0M750 1267h0M594 1338h0M707 1245h0M474 1344h0M843 1178h0M327 1355h0M620 1276h0M524 1303h0M578 1301h0M327 1340h0M324 1329h0M529 1348h0M612 1296h0M589 1207h0M511 1292h0M279 1353h0M644 1227h0M709 1154h0M665 1268h0M524 1291h0M390 1371h0M446 1296h0M641 1291h0M473 1279h0M715 1214h0M344 1296h0M589 1232h0M346 1314h0M484 1300h0M670 1278h0"/>
<path stroke="#2f6b8e" d="M349 1348h0M589 1285h0M858 1148h0M444 1281h0M507 1251h0M686 1219h0M500 1339h0M763 1252h0M594 1349h0M651 1252h0M480 1288h0M327 1380h0M589 1253h0M817 1120h0M851 1189h0M1067 1126h0M397 1373h0M397 1369h0M449 1336h0M1347 988h0M500 1315h0M317 1321h0M315 1320h0M673 1240h0M731 1188h0M466 1324h0M589 1234h0M524 1300h0M677 1290h0M574 1294h0M637 1252h0M396 1324h0M500 1337h0M324 1336h0M438 1311h0M1248 1162h0M686 1236h0M480 1287h0M659 1160h0M851 1204h0M547 1342h0M428 1275h0M679 1256h0M315 1334h0M480 1281h0M414 1315h0M686 1229h0M658 1283h0M591 1296h0M438 1299h0M390 1364h0M428 1274h0M574 1323h0M658 1295h0M279 1361h0M673 1317h0M591 1316h0M673 1292h0M300 1324h0M805 1201h0M327 1372h0M817 1242h0M294 1320h0M334 1324h0M357 1308h0M851 1208h0M542 1225h0M446 1331h0M637 1246h0M686 1225h0M613 1251h0M831 1197h0M835 1178h0M592 1297h0M801 1186h0M1141 1233h0M667 1232h0M587 1292h0M499 1328h0M620 1256h0M485 1364h0M485 1318h0M324 1322h0M369 1315h0M396 1271h0M429 1333h0M620 1273h0M587 1284h0M968 1221h0M505 1303h0M444 1314h0M763 1253h0M675 1210h0M428 1335h0M649 1326h0M770 1222h0M649 1270h0M872 1159h0M587 1283h0M587 1283h0M591 1296h0M300 1337h0M763 1246h0M709 1225h0M283 1315h0M752 1260h0M801 1143h0M587 1318h0M641 1263h0M548 1234h0M300 1334h0M547 1356h0M620 1276h0M774 1252h0M505 1308h0M396 1344h0M414 1323h0M342 1324h0M414 1335h0M610 1256h0M966 1072h0M779 1181h0M271 1358h0M357 1284h0M484 1294h0M334 1313h0M396 1321h0M658 1289h0M653 1266h0M653 1262h0M466 1329h0M739 1224h0M613 1271h0M283 1318h0M613 1259h0M315 1322h0M324 1385h0M473 1306h0M763 1265h0M679 1241h0M300 1340h0M658 1293h0M324 1373h0M649 1305h0"/>
<path stroke="#3b518b" d="M591 1309h0M672 1258h0M558 1269h0M558 1271h0M499 1335h0M379 1290h0M499 1338h0M438 1299h0M700 1253h0M587 1293h0M295 1363h0M644 1271h0M610 1246h0M392 1342h0M686 1211h0M341 1328h0M271 1337h0M633 1274h0M685 1283h0M295 1370h0M591 1338h0M774 1249h0M349 1346h0M374 1363h0M542 1306h0M835 1194h0M281 1341h0M719 1174h0M456 1289h0M484 1296h0M774 1281h0M536 1348h0M801 1193h0M572 1332h0M685 1291h0M667 1284h0M630 1167h0M446 1366h0M594 1349h0M480 1303h0M399 1329h0M572 1291h0M319 1321h0M396 1350h0M433 1330h0M292 1349h0M392 1324h0M620 1299h0M646 1305h0M592 1324h0M315 1327h0M801 1170h0M511 1305h0M536 1359h0M437 1334h0M446 1292h0M339 1361h0M610 1259h0M835 1202h0M300 1339h0M558 1246h0M480 1306h0M558 1306h0M622 1289h0M369 1327h0M319 1316h0M646 1318h0M468 1331h0M636 1226h0M774 1286h0M399 1371h0M418 1335h0M572 1318h0M400 1357h0M300 1345h0M462 1319h0M796 1164h0M609 1286h0M452 1318h0M279 1352h0M794 1112h0M711 1278h0M613 1274h0M774 1262h0M323 1355h0M349 1322h0M349 1336h0M349 1320h0M726 1246h0M848 1182h0M591 1333h0M416 1356h0M591 1317h0M491 1343h0M726 1222h0M500 1333h0M382 1349h0M379 1309h0M591 1316h0M473 1347h0M601 1266h0M637 1308h0M807 1213h0M966 1056h0M646 1328h0M355 1325h0M610 1260h0M369 1316h0M658 1289h0M449 1366h0M594 1292h0M437 1374h0M480 1304h0M686 1234h0M785 1154h0M327 1364h0M462 1341h0M572 1346h0M591 1318h0M641 1302h0M458 1306h0"/>
<path stroke="#b5de2b" d="M864 1123h0M694 1239h0M812 1197h0M791 1153h0M1131 929h0M800 1172h0M742 1220h0M530 1285h0M754 1177h0M561 1245h0M653 1227h0M305 1328h0M566 1223h0M812 1184h0M509 1269h0M694 1271h0M530 1234h0M346 1323h0M530 1293h0M566 1233h0M405 1312h0M791 1184h0M509 1294h0M694 1262h0M812 1204h0M512 1231h0M1265 738h0M811 1173h0M512 1239h0M779 1152h0M405 1332h0M729 1185h0M372 1361h0M772 1195h0M800 1178h0M512 1304h0M821 1143h0M623 1238h0M550 1151h0M1182 837h0M370 1292h0M530 1272h0M743 1171h0M632 1207h0M370 1347h0M630 1150h0M617 1268h0M800 1168h0M575 1308h0"/>
<path stroke="#40bd72" d="M717 1239h0M689 1241h0M509 1269h0M752 1276h0M486 1271h0M431 1282h0M344 1297h0M520 1289h0M653 1251h0M644 1221h0M520 1295h0M604 1343h0M643 1261h0M632 1242h0M523 1331h0M731 1162h0M697 1217h0M489 1275h0M561 1255h0M752 1266h0M738 1209h0M517 1275h0M324 1321h0M515 1275h0M357 1274h0M580 1257h0M983 1124h0M729 1193h0M584 1257h0M489 1257h0M688 1290h0M604 1334h0M369 1258h0M689 1245h0M705 1208h0M397 1353h0M589 1246h0M653 1279h0M489 1267h0M556 1232h0M623 1202h0M670 1274h0M644 1196h0M497 1302h0M294 1327h0M742 1253h0M623 1208h0M584 1304h0M533 1270h0M619 1296h0M529 1310h0M630 1189h0M670 1280h0M743 1165h0M596 1322h0M397 1348h0M512 1265h0M385 1328h0M663 1262h0M738 1194h0M520 1277h0M729 1194h0M713 1206h0M698 1165h0M779 1175h0M626 1220h0M520 1305h0M580 1219h0M713 1259h0M617 1282h0M459 1249h0M556 1230h0M738 1210h0M520 1309h0M607 1296h0M663 1260h0M341 1331h0M357 1276h0M482 1269h0M431 1270h0M474 1358h0M431 1285h0M705 1237h0M405 1323h0M630 1174h0M431 1271h0M515 1288h0M515 1267h0M584 1297h0M688 1281h0M597 1220h0M526 1271h0M580 1231h0M656 1218h0M832 1175h0M523 1313h0M832 1182h0M523 1322h0M688 1264h0M698 1175h0M431 1288h0M529 1304h0M539 1266h0M515 1276h0M713 1207h0M743 1196h0M556 1256h0M770 1187h0M520 1302h0M785 1133h0"/>
<path stroke="#355e8d" d="M357 1292h0M452 1327h0M725 1197h0M607 1299h0M374 1374h0M601 1218h0M548 1222h0M700 1239h0M473 1302h0M658 1270h0M484 1317h0M334 1324h0M656 1249h0M679 1261h0M379 1289h0M622 1264h0M686 1215h0M667 1275h0M511 1281h0M641 1297h0M787 1195h0M647 1260h0M473 1324h0M339 1369h0M796 1184h0M613 1280h0M763 1262h0M843 1160h0M613 1265h0M644 1255h0M697 1259h0M620 1320h0M433 1330h0M558 1302h0M790 1189h0M379 1288h0M444 1292h0M418 1306h0M613 1294h0M709 1237h0M605 1245h0M547 1357h0M686 1205h0M685 1281h0M524 1303h0M446 1353h0M513 1243h0M659 1214h0M374 1362h0M587 1305h0M685 1269h0M752 1275h0M592 1281h0M357 1316h0M435 1344h0M641 1312h0M444 1305h0M801 1185h0M793 1240h0M641 1286h0M308 1302h0M613 1318h0M592 1313h0M601 1233h0M319 1339h0M317 1305h0M750 1264h0M418 1313h0M491 1291h0M379 1307h0M349 1337h0M449 1343h0M686 1231h0M468 1285h0M295 1356h0M548 1216h0M620 1263h0M667 1265h0M835 1199h0M505 1320h0M369 1332h0M584 1304h0M675 1271h0M349 1341h0M399 1328h0M324 1360h0M763 1291h0M790 1196h0M726 1275h0M548 1235h0M668 1268h0M613 1270h0M327 1355h0M462 1325h0M435 1325h0M324 1367h0M658 1298h0M480 1297h0M646 1304h0M801 1154h0M781 1206h0M458 1298h0M641 1327h0M770 1229h0M532 1324h0M327 1365h0M658 1281h0M437 1327h0M476 1275h0M644 1224h0M536 1316h0M317 1320h0M399 1334h0M675 1219h0M587 1300h0M397 1384h0M763 1265h0M300 1341h0M399 1353h0M462 1327h0M500 1331h0M485 1342h0M379 1317h0M637 1261h0M319 1306h0M399 1351h0M429 1345h0M630 1174h0M564 1298h0M793 1245h0M295 1375h0"/>
<path stroke="#2a778e" d="M558 1228h0M459 1277h0M750 1237h0M319 1286h0M656 1226h0M589 1259h0M513 1240h0M675 1233h0M446 1337h0M630 1184h0M686 1222h0M324 1333h0M592 1310h0M518 1339h0M677 1288h0M484 1294h0M558 1237h0M697 1274h0M300 1342h0M349 1339h0M620 1277h0M435 1332h0M459 1266h0M796 1161h0M658 1290h0M513 1235h0M623 1229h0M482 1289h0M592 1249h0M667 1258h0M485 1347h0M518 1316h0M396 1277h0M545 1239h0M630 1175h0M801 1160h0M513 1254h0M507 1255h0M685 1266h0M760 1257h0M446 1360h0M677 1303h0M513 1240h0M686 1189h0M670 1278h0M428 1327h0M739 1240h0M750 1253h0M594 1313h0M271 1310h0M444 1319h0M670 1280h0M499 1332h0M589 1233h0M612 1280h0M719 1146h0M677 1307h0M547 1355h0M459 1274h0M541 1332h0M399 1320h0M668 1298h0M763 1231h0M851 1186h0M548 1232h0M476 1276h0M679 1223h0M717 1249h0M518 1297h0M396 1269h0M605 1262h0M739 1235h0M763 1246h0M715 1209h0M739 1240h0M719 1216h0M484 1294h0M466 1331h0M578 1316h0M478 1308h0M484 1308h0M817 1229h0M511 1295h0M484 1303h0M693 1207h0M801 1155h0M462 1317h0M385 1352h0M324 1364h0M279 1363h0M717 1252h0M397 1384h0M500 1332h0M480 1272h0M651 1275h0M485 1320h0M613 1275h0M397 1384h0M719 1173h0M511 1299h0M592 1262h0M685 1257h0M596 1278h0M315 1323h0M763 1247h0M587 1290h0M300 1332h0M390 1371h0M613 1259h0M750 1248h0M677 1289h0M511 1303h0M685 1277h0M480 1262h0M884 1157h0M418 1306h0"/>
<path stroke="#d8e219" d="M661 1145h0M791 1142h0M812 1155h0M812 1172h0M465 1197h0M791 1156h0M694 1257h0M812 1204h0M643 1223h0M1119 786h0M570 1274h0M305 1323h0M575 1291h0M742 1212h0M713 1180h0M512 1243h0M1235 769h0M812 1143h0M512 1253h0M465 1178h0M570 1274h0M832 1155h0M497 1243h0M431 1280h0M1265 740h0M570 1266h0M305 1327h0M1235 812h0M1158 1077h0M604 1309h0M1206 1003h0M570 1276h0M772 1218h0M694 1261h0M1181 988h0M570 1273h0M857 1159h0M812 1159h0M643 1218h0M1141 852h0M305 1318h0M742 1217h0M352 1173h0M568 1234h0M1141 797h0M745 1168h0M575 1299h0M459 1272h0M791 1158h0M698 1148h0M1119 969h0M530 1271h0M713 1174h0M698 1164h0M643 1200h0M568 1250h0M812 1175h0M1206 1071h0M305 1317h0M1148 596h0M742 1224h0M568 1240h0M694 1250h0M1119 957h0M1230 804h0M698 1158h0M1343 619h0M1196 750h0M1131 854h0M791 1141h0M661 1155h0M1235 789h0M305 1318h0M497 1244h0M805 1147h0M305 1317h0M1141 761h0M1321 944h0M512 1295h0M754 1179h0M530 1303h0M568 1235h0M1119 907h0M812 1179h0M385 1190h0M1119 894h0M812 1144h0M568 1233h0M305 1326h0M570 1250h0M800 1158h0M305 1324h0M512 1247h0M1158 827h0M747 1168h0M1141 877h0M694 1217h0M568 1228h0M1119 1006h0M561 1228h0M370 1317h0M1196 1097h0M747 1179h0M698 1152h0M580 1237h0M643 1224h0M1157 673h0M812 1207h0M370 1284h0M754 1148h0M568 1218h0M568 1244h0M509 1272h0M758 1213h0M812 1143h0M1196 1034h0M698 1147h0M656 1159h0M643 1214h0M1157 745h0M556 1215h0M530 1283h0M1326 696h0M372 1347h0M857 1159h0M568 1257h0M1196 909h0M370 1289h0"/>
</g>
<path d="M280.2,1360.0 L300.4,1355.5 L320.6,1351.0 L340.9,1346.5 L361.1,1342.0 L381.3,1337.3 L401.5,1332.5 L421.8,1327.5 L442.0,1322.2 L462.2,1316.7 L482.4,1310.7 L502.6,1304.4 L522.9,1297.6 L543.1,1290.4 L563.3,1282.7 L583.5,1274.6 L603.7,1266.1 L624.0,1257.0 L644.2,1247.5 L664.4,1237.5 L684.6,1227.1 L704.9,1216.1 L725.1,1204.6 L745.3,1192.6 L765.5,1180.0 L785.7,1167.0 L806.0,1153.5 L826.2,1139.4 L846.4,1124.9 L866.6,1109.9 L886.8,1094.4 L907.1,1078.4 L927.3,1062.0 L947.5,1045.1 L967.7,1027.7 L988.0,1009.9 L1008.2,991.7 L1028.4,973.0 L1048.6,954.0 L1068.8,934.4 L1089.1,914.5 L1109.3,894.2 L1129.5,873.5 L1149.7,852.4 L1170.0,831.0 L1190.2,809.3 L1210.4,787.4 L1230.6,765.3 L1250.8,743.0 L1271.1,720.6 L1291.3,698.1 L1311.5,675.5 L1331.7,652.9 L1351.9,630.2 L1372.2,607.5 L1392.4,584.7 L1412.6,561.8 L1432.8,538.9 L1453.1,516.0 L1473.3,493.0 L1493.5,470.0 L1513.7,446.9 L1533.9,423.8 L1554.2,400.6 L1574.4,377.3 L1594.6,354.0 L1614.8,330.7 L1635.0,307.2 L1655.3,283.6 L1675.5,260.0 L1695.7,236.2 L1715.9,212.4 L1736.2,188.4 L1756.4,164.4 L1776.6,140.2" fill="none" stroke="#ff00ff" stroke-width="6.1" stroke-dasharray="17.5 16.8" stroke-dashoffset="0.9"/>
<path d="M280.2,1363.1 L300.4,1358.1 L320.6,1353.4 L340.9,1348.8 L361.1,1344.2 L381.3,1339.7 L401.5,1335.3 L421.8,1330.7 L442.0,1326.1 L462.2,1321.4 L482.4,1316.6 L502.6,1311.5 L522.9,1306.2 L543.1,1300.7 L563.3,1294.8 L583.5,1288.6 L603.7,1282.0 L624.0,1275.1 L644.2,1267.8 L664.4,1260.0 L684.6,1251.9 L704.9,1243.4 L725.1,1234.4 L745.3,1224.9 L765.5,1215.0 L785.7,1204.6 L806.0,1193.7 L826.2,1182.4 L846.4,1170.6 L866.6,1158.3 L886.8,1145.5 L907.1,1132.2 L927.3,1118.4 L947.5,1104.2 L967.7,1089.4 L988.0,1074.2 L1008.2,1058.5 L1028.4,1042.3 L1048.6,1025.6 L1068.8,1008.5 L1089.1,990.9 L1109.3,973.0 L1129.5,954.7 L1149.7,935.9 L1170.0,916.9 L1190.2,897.5 L1210.4,877.8 L1230.6,857.7 L1250.8,837.4 L1271.1,816.9 L1291.3,796.1 L1311.5,775.0 L1331.7,753.8 L1351.9,732.4 L1372.2,710.8 L1392.4,689.0 L1412.6,667.1 L1432.8,645.1 L1453.1,623.0 L1473.3,600.8 L1493.5,578.5 L1513.7,556.2 L1533.9,533.8 L1554.2,511.5 L1574.4,489.1 L1594.6,466.8 L1614.8,444.5 L1635.0,422.3 L1655.3,400.2 L1675.5,378.1 L1695.7,356.2 L1715.9,334.4 L1736.2,312.8 L1756.4,291.3 L1776.6,270.0" fill="none" stroke="#ffa500" stroke-width="6.1"/>
<circle cx="304.7" cy="1346" r="10" fill="#ff0000"/>
<circle cx="427.3" cy="1327" r="10" fill="#ff0000"/>
<circle cx="549.9" cy="1293" r="10" fill="#ff0000"/>
<circle cx="672.5" cy="1250" r="10" fill="#ff0000"/>
<circle cx="795.1" cy="1195" r="10" fill="#ff0000"/>
<circle cx="917.7" cy="1139" r="10" fill="#ff0000"/>
<circle cx="1040.3" cy="1054" r="10" fill="#ff0000"/>
<circle cx="1162.9" cy="919" r="10" fill="#ff0000"/>
<circle cx="1285.5" cy="768" r="10" fill="#ff0000"/>
<circle cx="1408.1" cy="564" r="10" fill="#ff0000"/>
<text transform="translate(255.70,1533.60) scale(1.0,1.056)" font-size="63.5" text-anchor="middle">0</text>
<text transform="translate(500.91,1533.60) scale(1.0,1.056)" font-size="63.5" text-anchor="middle">10</text>
<text transform="translate(746.12,1533.60) scale(1.0,1.056)" font-size="63.5" text-anchor="middle">20</text>
<text transform="translate(991.33,1533.60) scale(1.0,1.056)" font-size="63.5" text-anchor="middle">30</text>
<text transform="translate(1236.54,1533.60) scale(1.0,1.056)" font-size="63.5" text-anchor="middle">40</text>
<text transform="translate(1481.75,1533.60) scale(1.0,1.056)" font-size="63.5" text-anchor="middle">50</text>
<text transform="translate(1726.96,1533.60) scale(1.0,1.056)" font-size="63.5" text-anchor="middle">60</text>
<text transform="translate(238.80,1391.79) scale(1.0,1.056)" font-size="63.5" text-anchor="end">0.00</text>
<text transform="translate(238.80,1183.51) scale(1.0,1.056)" font-size="63.5" text-anchor="end">0.05</text>
<text transform="translate(238.80,975.23) scale(1.0,1.056)" font-size="63.5" text-anchor="end">0.10</text>
<text transform="translate(238.80,766.94) scale(1.0,1.056)" font-size="63.5" text-anchor="end">0.15</text>
<text transform="translate(238.80,558.66) scale(1.0,1.056)" font-size="63.5" text-anchor="end">0.20</text>
<text transform="translate(238.80,350.38) scale(1.0,1.056)" font-size="63.5" text-anchor="end">0.25</text>
<text transform="translate(238.80,157.80) scale(1.0,1.056)" font-size="63.5" text-anchor="end">0.30</text>
<text transform="translate(1015.80,89.30) scale(1.0,1.02)" font-size="79.5" text-anchor="middle">Channel 5 Excess Emissivity vs Wind Speed</text>
<text transform="translate(1014.80,1601.30) scale(1.0,1.02)" font-size="63.5" text-anchor="middle">Sonde wind speed (m/s)</text>
<text transform="translate(65.00,786.00) rotate(-90) scale(1.0,1.07)" font-size="63.5" text-anchor="middle">EEW</text>
<rect x="278.5" y="156.5" width="526.5" height="126.5" fill="#fff" stroke="#000" stroke-width="3" shape-rendering="crispEdges"/>
<path d="M312,184h18M347,184h18" stroke="#ff00ff" stroke-width="2" shape-rendering="crispEdges"/>
<path d="M312,220h70" stroke="#ffa500" stroke-width="2" shape-rendering="crispEdges"/>
<circle cx="347" cy="256" r="10" fill="#ff0000"/>
<text transform="translate(402.90,192.60) scale(1.0,1.03)" font-size="36.4" text-anchor="start">Klotz and Uhlhorn, 2014</text>
<text transform="translate(402.90,228.60) scale(1.0,1.03)" font-size="36.4" text-anchor="start">New model</text>
<text transform="translate(402.90,264.60) scale(1.0,1.03)" font-size="36.4" text-anchor="start">Data means</text>
<defs><linearGradient id="vir" x1="0" y1="0" x2="0" y2="1"><stop offset="0.0000" stop-color="#d8e219"/><stop offset="0.0312" stop-color="#c5e021"/><stop offset="0.0625" stop-color="#b0dd2f"/><stop offset="0.0938" stop-color="#9dd93b"/><stop offset="0.1250" stop-color="#89d548"/><stop offset="0.1562" stop-color="#77d153"/><stop offset="0.1875" stop-color="#65cb5e"/><stop offset="0.2188" stop-color="#56c667"/><stop offset="0.2500" stop-color="#46c06f"/><stop offset="0.2812" stop-color="#38b977"/><stop offset="0.3125" stop-color="#2eb37c"/><stop offset="0.3438" stop-color="#25ac82"/><stop offset="0.3750" stop-color="#21a585"/><stop offset="0.4062" stop-color="#1f9e89"/><stop offset="0.4375" stop-color="#1f978b"/><stop offset="0.4688" stop-color="#21908d"/><stop offset="0.5000" stop-color="#23898e"/><stop offset="0.5312" stop-color="#26828e"/><stop offset="0.5625" stop-color="#297b8e"/><stop offset="0.5938" stop-color="#2c738e"/><stop offset="0.6250" stop-color="#2e6d8e"/><stop offset="0.6562" stop-color="#32658e"/><stop offset="0.6875" stop-color="#355e8d"/><stop offset="0.7188" stop-color="#39558c"/><stop offset="0.7500" stop-color="#3d4e8a"/><stop offset="0.7812" stop-color="#404588"/><stop offset="0.8125" stop-color="#433d84"/><stop offset="0.8438" stop-color="#46337f"/><stop offset="0.8750" stop-color="#472a7a"/><stop offset="0.9062" stop-color="#482071"/><stop offset="0.9375" stop-color="#481769"/><stop offset="0.9688" stop-color="#460b5e"/><stop offset="1.0000" stop-color="#440154"/></linearGradient></defs>
<rect x="1984.0" y="120.5" width="41.5" height="1333.0" fill="url(#vir)" stroke="#000" stroke-width="3.4" shape-rendering="crispEdges"/>
<path d="M1984.0,1286.88h7M1984.0,1120.25h11M1984.0,953.62h7M1984.0,787.00h11M1984.0,620.38h7M1984.0,453.75h11M1984.0,287.12h7" stroke="#000" stroke-width="3.4" shape-rendering="crispEdges"/>
<text transform="translate(1969.00,1452.00) scale(1.0,1.056)" font-size="52.5" text-anchor="end">0.0</text>
<text transform="translate(1969.00,1138.75) scale(1.0,1.056)" font-size="52.5" text-anchor="end">0.5</text>
<text transform="translate(1969.00,805.50) scale(1.0,1.056)" font-size="52.5" text-anchor="end">1.0</text>
<text transform="translate(1969.00,472.25) scale(1.0,1.056)" font-size="52.5" text-anchor="end">1.5</text>
<text transform="translate(1969.00,152.00) scale(1.0,1.056)" font-size="52.5" text-anchor="end">2.0</text>
<text transform="translate(1853.20,787.40) rotate(-90) scale(1.0,1.02)" font-size="54.2" text-anchor="middle">HRD Rain Rate</text>
</svg>
</body>
</html>
